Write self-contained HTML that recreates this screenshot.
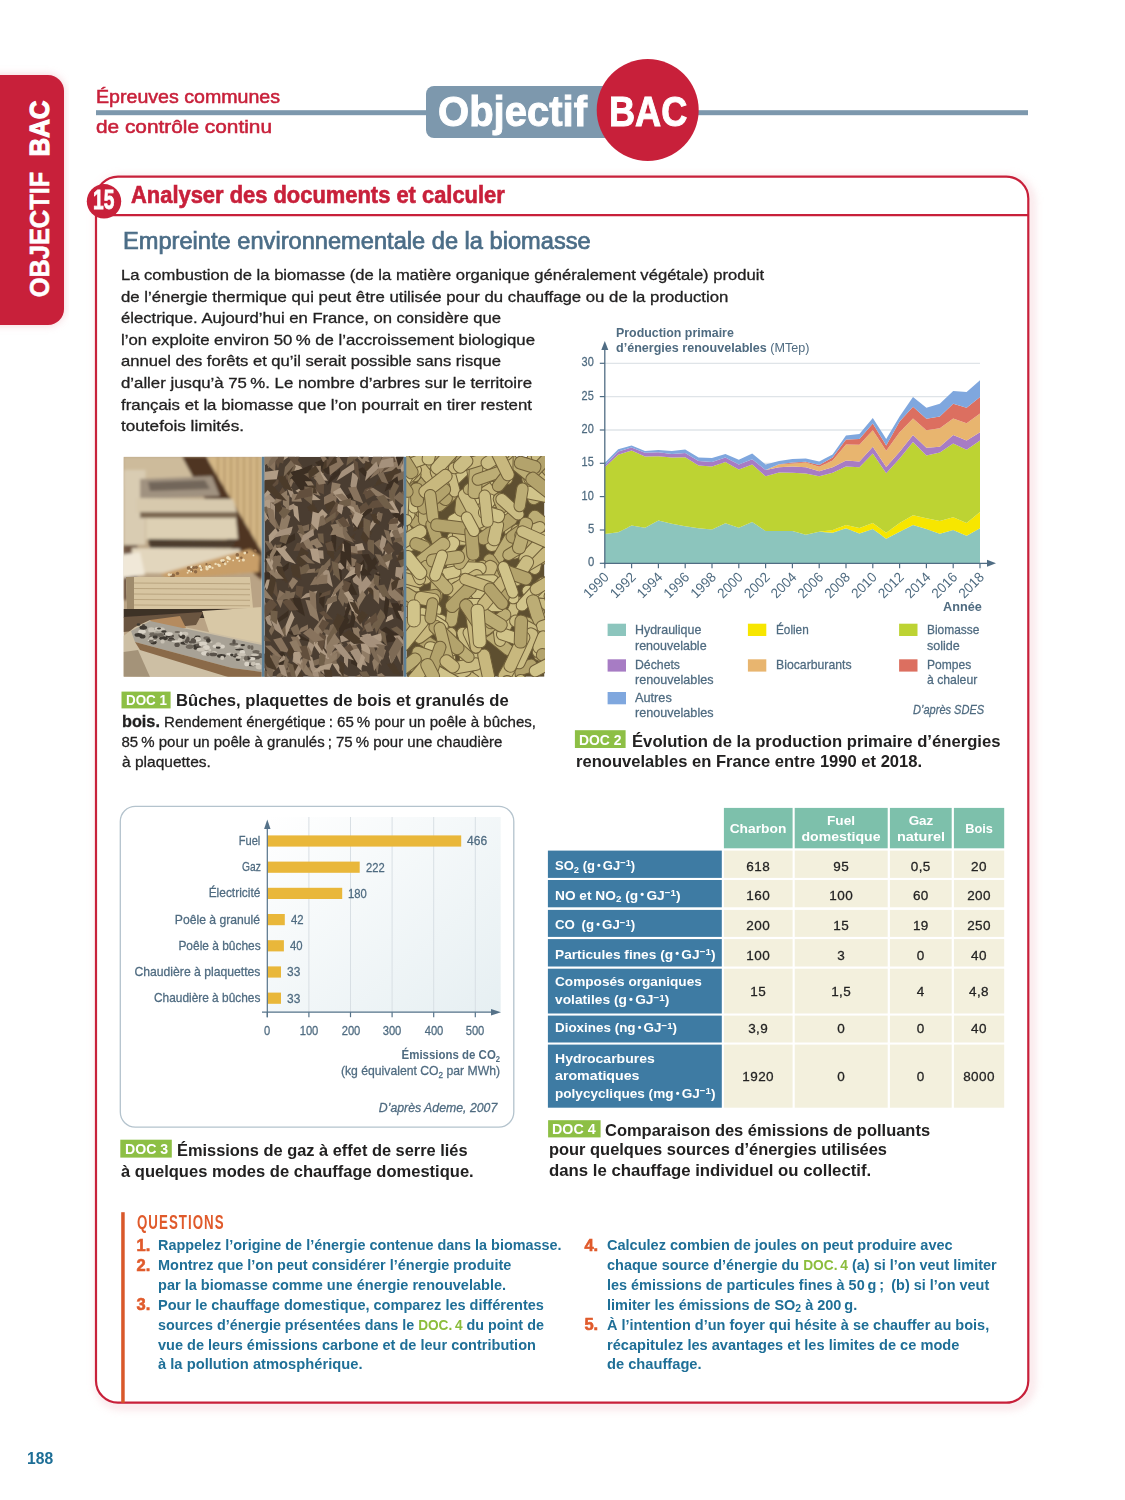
<!DOCTYPE html><html><head><meta charset="utf-8"><style>
*{margin:0;padding:0;box-sizing:border-box}
html,body{width:1125px;height:1500px;overflow:hidden;background:#fff}
body{position:relative;font-family:"Liberation Sans",sans-serif}
.t{position:absolute;white-space:nowrap;line-height:0}
.s{-webkit-text-stroke:0.28px currentColor}
.a{position:absolute}
sub,sup{line-height:0}

</style></head><body>
<svg class="a" style="left:0;top:0" width="1125" height="1500" viewBox="0 0 1125 1500">
<defs><filter id="glow" x="-5%" y="-5%" width="110%" height="110%"><feGaussianBlur stdDeviation="4"/></filter></defs>
<rect x="-20" y="75" width="84" height="250" rx="16" fill="#e7a0ab" opacity="0.5" filter="url(#glow)"/>
<rect x="-20" y="75" width="84" height="250" rx="16" fill="#c8203a"/>
<text transform="translate(49.3,297.3) rotate(-90)" font-family="Liberation Sans" font-weight="700" font-size="28.5" fill="#fff" stroke="#fff" stroke-width="0.6" textLength="125.5" lengthAdjust="spacingAndGlyphs">OBJECTIF</text>
<text transform="translate(49.3,156.5) rotate(-90)" font-family="Liberation Sans" font-weight="700" font-size="28.5" fill="#fff" stroke="#fff" stroke-width="1.2" textLength="56" lengthAdjust="spacingAndGlyphs">BAC</text>
<rect x="96" y="110.2" width="932" height="5" fill="#7d98ad"/>
<rect x="426" y="86" width="200" height="52" rx="8" fill="#7d98ad"/>
<circle cx="647.7" cy="110" r="51" fill="#c8203a"/>
<path d="M118,176.6 H1006.3 A22,22 0 0 1 1028.3,198.6 V1380.7 A22,22 0 0 1 1006.3,1402.7 H118 A22,22 0 0 1 96,1380.7 V198.6 A22,22 0 0 1 118,176.6 Z" fill="none" stroke="#f2c4cb" stroke-width="6" opacity="0.6" filter="url(#glow)" transform="translate(3,3)"/>
<path d="M118,176.6 H1006.3 A22,22 0 0 1 1028.3,198.6 V1380.7 A22,22 0 0 1 1006.3,1402.7 H118 A22,22 0 0 1 96,1380.7 V198.6 A22,22 0 0 1 118,176.6 Z" fill="#fff" stroke="#c8203a" stroke-width="2.2"/>
<line x1="110" y1="215.2" x2="1028" y2="215.2" stroke="#c8203a" stroke-width="2.2"/>
<circle cx="104" cy="201.3" r="17.2" fill="#c8203a"/>
<defs>
<clipPath id="cp1"><rect x="123.5" y="456.8" width="138.3" height="220.0"/></clipPath>
<clipPath id="cp2"><rect x="264.3" y="456.8" width="139.5" height="220.0"/></clipPath>
<clipPath id="cp3"><rect x="406.3" y="456.8" width="138.2" height="220.0"/></clipPath>
<filter id="bl1" x="-10%" y="-10%" width="120%" height="120%"><feGaussianBlur stdDeviation="1.6"/></filter>
<filter id="bl05" x="-10%" y="-10%" width="120%" height="120%"><feGaussianBlur stdDeviation="0.7"/></filter>
</defs>
<g clip-path="url(#cp1)">
<rect x="123.5" y="456.8" width="138.3" height="220.0" fill="#b9a385"/>
<g filter="url(#bl1)"><rect x="123.5" y="456.8" width="80" height="30" fill="#cdbb9b"/><rect x="123.5" y="470" width="22" height="75" fill="#d9ccb2"/><rect x="123.5" y="545" width="14" height="55" fill="#6e5443"/><polygon points="208,456.8 261.8,456.8 261.8,565 228,540" fill="#d4b786"/><line x1="218.0" y1="456.8" x2="218.0" y2="560" stroke="#a8895c" stroke-width="1.3"/><line x1="224.5" y1="456.8" x2="224.5" y2="560" stroke="#a8895c" stroke-width="1.3"/><line x1="231.0" y1="456.8" x2="231.0" y2="560" stroke="#a8895c" stroke-width="1.3"/><line x1="237.5" y1="456.8" x2="237.5" y2="560" stroke="#a8895c" stroke-width="1.3"/><line x1="244.0" y1="456.8" x2="244.0" y2="560" stroke="#a8895c" stroke-width="1.3"/><line x1="250.5" y1="456.8" x2="250.5" y2="560" stroke="#a8895c" stroke-width="1.3"/><line x1="257.0" y1="456.8" x2="257.0" y2="560" stroke="#a8895c" stroke-width="1.3"/><polygon points="182,456.8 206,456.8 262,552 262,580 238,560" fill="#4f3424"/><polygon points="140,479 212,476 220,496 140,499" fill="#a09280"/><polygon points="148,482 205,480 210,489 150,491" fill="#72665a"/><polygon points="136,498 233,499 237,512 136,513" fill="#d7c9ad"/><rect x="140" y="512" width="97" height="6" fill="#7a6650"/><polygon points="146,518 236,518 238,539 146,540" fill="#ddd0b4"/><polygon points="148,539 236,540 232,548 150,548" fill="#4e3d2e"/><polygon points="132,548 240,549 240,574 132,573" fill="#e2d6bd"/><polygon points="120,555 140,552 145,575 120,578" fill="#f0e8d8"/><polygon points="160,574 250,549 260,556 259,572 170,580" fill="#c89e68"/></g>
<circle cx="188.9" cy="570.6" r="1.2" fill="#f3e6c6"/>
<circle cx="209.7" cy="565.6" r="1.4" fill="#8e6a46"/>
<circle cx="190.8" cy="567.9" r="1.8" fill="#8e6a46"/>
<circle cx="215.6" cy="563.9" r="1.2" fill="#ecdcb8"/>
<circle cx="188.4" cy="568.0" r="1.7" fill="#8e6a46"/>
<circle cx="233.2" cy="560.4" r="0.9" fill="#f3e6c6"/>
<circle cx="171.8" cy="576.5" r="1.6" fill="#8e6a46"/>
<circle cx="209.6" cy="566.6" r="1.7" fill="#f3e6c6"/>
<circle cx="237.4" cy="557.7" r="1.5" fill="#f3e6c6"/>
<circle cx="207.1" cy="568.8" r="1.7" fill="#ecdcb8"/>
<circle cx="171.2" cy="574.7" r="1.1" fill="#f3e6c6"/>
<circle cx="206.4" cy="566.8" r="1.1" fill="#f3e6c6"/>
<circle cx="241.3" cy="557.7" r="1.3" fill="#8e6a46"/>
<circle cx="219.4" cy="565.5" r="1.5" fill="#ecdcb8"/>
<circle cx="243.4" cy="560.1" r="1.5" fill="#ecdcb8"/>
<circle cx="229.5" cy="558.9" r="1.3" fill="#f3e6c6"/>
<circle cx="218.1" cy="564.5" r="1.0" fill="#f3e6c6"/>
<circle cx="191.5" cy="567.0" r="1.3" fill="#f3e6c6"/>
<circle cx="255.1" cy="550.8" r="1.6" fill="#8e6a46"/>
<circle cx="246.9" cy="552.4" r="1.2" fill="#8e6a46"/>
<circle cx="244.8" cy="553.1" r="1.4" fill="#ecdcb8"/>
<circle cx="201.2" cy="567.8" r="1.4" fill="#8e6a46"/>
<circle cx="212.5" cy="567.9" r="1.1" fill="#ecdcb8"/>
<circle cx="177.5" cy="573.4" r="1.7" fill="#8e6a46"/>
<circle cx="193.7" cy="567.4" r="1.5" fill="#8e6a46"/>
<circle cx="195.6" cy="571.8" r="1.7" fill="#8e6a46"/>
<circle cx="201.2" cy="569.8" r="1.2" fill="#f3e6c6"/>
<circle cx="227.9" cy="557.7" r="1.8" fill="#f3e6c6"/>
<circle cx="191.9" cy="570.5" r="1.5" fill="#8e6a46"/>
<circle cx="206.5" cy="564.2" r="1.1" fill="#8e6a46"/>
<circle cx="169.0" cy="574.7" r="1.4" fill="#ecdcb8"/>
<circle cx="201.1" cy="567.8" r="0.9" fill="#f3e6c6"/>
<circle cx="223.2" cy="561.5" r="1.5" fill="#8e6a46"/>
<circle cx="221.6" cy="560.6" r="1.3" fill="#f3e6c6"/>
<circle cx="173.3" cy="575.4" r="1.8" fill="#8e6a46"/>
<circle cx="223.3" cy="560.3" r="1.4" fill="#ecdcb8"/>
<circle cx="200.0" cy="566.2" r="1.2" fill="#f3e6c6"/>
<circle cx="191.2" cy="571.7" r="0.9" fill="#ecdcb8"/>
<circle cx="253.5" cy="555.4" r="0.9" fill="#f3e6c6"/>
<circle cx="187.6" cy="572.7" r="1.0" fill="#ecdcb8"/>
<circle cx="227.7" cy="561.6" r="0.9" fill="#f3e6c6"/>
<circle cx="196.3" cy="567.3" r="1.6" fill="#8e6a46"/>
<circle cx="239.3" cy="560.9" r="0.9" fill="#f3e6c6"/>
<circle cx="225.2" cy="563.9" r="1.3" fill="#ecdcb8"/>
<circle cx="237.3" cy="554.9" r="1.8" fill="#8e6a46"/>
<g filter="url(#bl05)"><polygon points="126,577 250,577 253,608 127,610" fill="#d7c5a1"/><polygon points="126,577 134,577 134,610 127,610" fill="#9f8b6c"/><line x1="134" y1="583.0" x2="250" y2="583.8" stroke="#b5a07c" stroke-width="0.9"/><line x1="134" y1="588.5" x2="250" y2="589.3" stroke="#b5a07c" stroke-width="0.9"/><line x1="134" y1="594.0" x2="250" y2="594.8" stroke="#b5a07c" stroke-width="0.9"/><line x1="134" y1="599.5" x2="250" y2="600.3" stroke="#b5a07c" stroke-width="0.9"/><line x1="134" y1="605.0" x2="250" y2="605.8" stroke="#b5a07c" stroke-width="0.9"/><rect x="123.5" y="609" width="110" height="9" fill="#3e3128"/><polygon points="202,611 261.8,607 261.8,644 212,641" fill="#d8c8a6"/><polygon points="123.5,617 203,612 196,625 123.5,632" fill="#6a5440"/><polygon points="123.5,636 135,627 150,620 261.8,643 261.8,677 123.5,676.8" fill="#cdbfa4"/><polygon points="150,620 180,616 186,628 158,632" fill="#b58b5e"/><polygon points="131,631 150,621 261.8,645 261.8,672 232,668 135,642" fill="#a8a296"/><polygon points="135,642 232,668 261.8,672 261.8,677 228,677 140,650" fill="#8a6a4a"/><polygon points="123.5,652 138,650 150,677 123.5,676.8" fill="#a49379"/></g>
<ellipse cx="237.9" cy="659.7" rx="2.1" ry="1.4" fill="#3e3932"/>
<ellipse cx="237.8" cy="649.1" rx="1.9" ry="1.4" fill="#d8d2c6"/>
<ellipse cx="195.5" cy="646.1" rx="2.4" ry="1.9" fill="#3e3932"/>
<ellipse cx="252.0" cy="647.7" rx="1.5" ry="2.4" fill="#6d665c"/>
<ellipse cx="260.2" cy="655.7" rx="4.4" ry="2.4" fill="#59524a"/>
<ellipse cx="142.0" cy="631.7" rx="3.8" ry="2.1" fill="#d8d2c6"/>
<ellipse cx="205.3" cy="653.2" rx="4.1" ry="2.3" fill="#d8d2c6"/>
<ellipse cx="152.9" cy="630.5" rx="1.6" ry="2.2" fill="#6d665c"/>
<ellipse cx="252.4" cy="664.4" rx="4.2" ry="1.9" fill="#3e3932"/>
<ellipse cx="197.6" cy="636.9" rx="3.0" ry="1.4" fill="#3e3932"/>
<ellipse cx="203.0" cy="643.5" rx="4.3" ry="1.9" fill="#d8d2c6"/>
<ellipse cx="153.5" cy="642.3" rx="3.1" ry="2.2" fill="#3e3932"/>
<ellipse cx="181.6" cy="635.3" rx="3.1" ry="2.2" fill="#59524a"/>
<ellipse cx="167.6" cy="633.9" rx="4.2" ry="1.2" fill="#3e3932"/>
<ellipse cx="198.4" cy="645.5" rx="2.7" ry="2.1" fill="#59524a"/>
<ellipse cx="171.3" cy="639.0" rx="2.8" ry="1.7" fill="#3e3932"/>
<ellipse cx="244.1" cy="659.8" rx="1.6" ry="1.1" fill="#c9c2b5"/>
<ellipse cx="258.7" cy="664.9" rx="1.8" ry="1.8" fill="#d8d2c6"/>
<ellipse cx="157.4" cy="628.6" rx="2.7" ry="1.6" fill="#d8d2c6"/>
<ellipse cx="182.7" cy="635.4" rx="2.5" ry="1.2" fill="#6d665c"/>
<ellipse cx="138.4" cy="634.9" rx="3.9" ry="1.9" fill="#3e3932"/>
<ellipse cx="184.2" cy="643.1" rx="3.8" ry="1.6" fill="#3e3932"/>
<ellipse cx="215.1" cy="646.3" rx="2.6" ry="1.7" fill="#d8d2c6"/>
<ellipse cx="190.1" cy="646.0" rx="2.9" ry="1.4" fill="#6d665c"/>
<ellipse cx="171.4" cy="640.1" rx="3.9" ry="1.3" fill="#59524a"/>
<ellipse cx="246.9" cy="664.0" rx="2.6" ry="2.3" fill="#d8d2c6"/>
<ellipse cx="153.0" cy="637.7" rx="4.3" ry="2.1" fill="#6d665c"/>
<ellipse cx="236.1" cy="655.7" rx="3.7" ry="1.8" fill="#3e3932"/>
<ellipse cx="238.5" cy="657.3" rx="2.9" ry="1.4" fill="#c9c2b5"/>
<ellipse cx="143.5" cy="626.4" rx="1.8" ry="2.3" fill="#59524a"/>
<ellipse cx="239.4" cy="649.4" rx="4.1" ry="1.0" fill="#3e3932"/>
<ellipse cx="221.4" cy="655.9" rx="4.4" ry="1.9" fill="#3e3932"/>
<ellipse cx="142.5" cy="636.5" rx="3.0" ry="2.1" fill="#3e3932"/>
<ellipse cx="206.6" cy="638.1" rx="3.2" ry="1.8" fill="#6d665c"/>
<ellipse cx="160.3" cy="629.2" rx="4.5" ry="2.0" fill="#c9c2b5"/>
<ellipse cx="214.3" cy="652.6" rx="2.7" ry="1.6" fill="#c9c2b5"/>
<ellipse cx="254.2" cy="657.2" rx="4.4" ry="1.6" fill="#59524a"/>
<ellipse cx="258.5" cy="654.8" rx="3.7" ry="1.2" fill="#6d665c"/>
<ellipse cx="231.6" cy="654.8" rx="3.1" ry="1.7" fill="#c9c2b5"/>
<ellipse cx="249.1" cy="647.1" rx="1.8" ry="2.1" fill="#6d665c"/>
<ellipse cx="255.7" cy="658.2" rx="4.1" ry="1.2" fill="#59524a"/>
<ellipse cx="156.1" cy="635.6" rx="4.3" ry="2.3" fill="#6d665c"/>
<ellipse cx="256.0" cy="651.7" rx="3.6" ry="1.6" fill="#6d665c"/>
<ellipse cx="210.4" cy="642.1" rx="2.2" ry="1.0" fill="#c9c2b5"/>
<ellipse cx="237.5" cy="646.0" rx="3.2" ry="1.4" fill="#c9c2b5"/>
<ellipse cx="233.8" cy="644.1" rx="4.5" ry="1.7" fill="#6d665c"/>
<ellipse cx="163.5" cy="638.2" rx="4.2" ry="2.0" fill="#3e3932"/>
<ellipse cx="197.6" cy="648.2" rx="4.1" ry="1.6" fill="#3e3932"/>
<ellipse cx="195.9" cy="638.6" rx="2.2" ry="2.1" fill="#3e3932"/>
<ellipse cx="256.7" cy="664.4" rx="2.2" ry="1.3" fill="#d8d2c6"/>
<ellipse cx="155.0" cy="637.0" rx="3.5" ry="1.1" fill="#d8d2c6"/>
<ellipse cx="159.0" cy="628.5" rx="2.0" ry="1.1" fill="#3e3932"/>
<ellipse cx="152.6" cy="630.8" rx="4.2" ry="1.1" fill="#c9c2b5"/>
<ellipse cx="209.8" cy="650.0" rx="1.5" ry="1.5" fill="#c9c2b5"/>
<ellipse cx="185.0" cy="633.8" rx="3.4" ry="2.1" fill="#c9c2b5"/>
<ellipse cx="186.4" cy="642.5" rx="1.9" ry="1.4" fill="#c9c2b5"/>
<ellipse cx="151.9" cy="640.6" rx="4.2" ry="1.1" fill="#d8d2c6"/>
<ellipse cx="222.0" cy="646.5" rx="2.9" ry="2.0" fill="#d8d2c6"/>
<ellipse cx="151.3" cy="641.3" rx="2.5" ry="1.8" fill="#6d665c"/>
<ellipse cx="152.0" cy="634.3" rx="2.6" ry="2.1" fill="#6d665c"/>
<ellipse cx="229.9" cy="653.9" rx="3.7" ry="1.2" fill="#d8d2c6"/>
<ellipse cx="248.2" cy="658.1" rx="1.9" ry="2.4" fill="#59524a"/>
<ellipse cx="252.0" cy="658.7" rx="3.4" ry="1.6" fill="#d8d2c6"/>
<ellipse cx="218.2" cy="647.5" rx="2.4" ry="1.3" fill="#3e3932"/>
<ellipse cx="151.3" cy="629.2" rx="3.2" ry="1.9" fill="#c9c2b5"/>
<ellipse cx="182.5" cy="636.7" rx="2.7" ry="2.3" fill="#3e3932"/>
<ellipse cx="197.3" cy="639.6" rx="3.6" ry="1.8" fill="#d8d2c6"/>
<ellipse cx="255.0" cy="654.9" rx="3.9" ry="1.1" fill="#c9c2b5"/>
<ellipse cx="242.8" cy="645.1" rx="2.3" ry="1.1" fill="#3e3932"/>
<ellipse cx="207.9" cy="654.2" rx="1.8" ry="2.0" fill="#6d665c"/>
<ellipse cx="189.6" cy="646.8" rx="3.9" ry="2.1" fill="#6d665c"/>
<ellipse cx="213.3" cy="654.4" rx="3.9" ry="1.8" fill="#59524a"/>
<ellipse cx="208.4" cy="640.5" rx="2.3" ry="2.2" fill="#3e3932"/>
<ellipse cx="242.3" cy="652.2" rx="2.7" ry="2.2" fill="#d8d2c6"/>
<ellipse cx="206.4" cy="647.5" rx="3.4" ry="2.5" fill="#d8d2c6"/>
<ellipse cx="248.9" cy="658.5" rx="1.6" ry="1.3" fill="#3e3932"/>
<ellipse cx="151.3" cy="638.4" rx="2.2" ry="1.3" fill="#c9c2b5"/>
<ellipse cx="162.6" cy="641.4" rx="2.1" ry="2.2" fill="#c9c2b5"/>
<ellipse cx="151.8" cy="631.0" rx="3.5" ry="1.2" fill="#c9c2b5"/>
<ellipse cx="236.1" cy="654.7" rx="1.7" ry="1.5" fill="#59524a"/>
<ellipse cx="200.6" cy="644.6" rx="1.6" ry="1.5" fill="#d8d2c6"/>
<ellipse cx="245.8" cy="658.4" rx="1.9" ry="2.3" fill="#6d665c"/>
<ellipse cx="234.0" cy="641.8" rx="1.7" ry="2.5" fill="#59524a"/>
<ellipse cx="253.3" cy="663.8" rx="2.8" ry="2.1" fill="#c9c2b5"/>
<ellipse cx="177.1" cy="644.7" rx="2.7" ry="2.3" fill="#59524a"/>
<ellipse cx="186.5" cy="641.2" rx="1.7" ry="2.3" fill="#59524a"/>
<ellipse cx="218.4" cy="644.4" rx="2.9" ry="2.1" fill="#c9c2b5"/>
<ellipse cx="192.3" cy="642.1" rx="1.6" ry="1.4" fill="#d8d2c6"/>
<ellipse cx="193.4" cy="640.6" rx="2.7" ry="2.5" fill="#59524a"/>
<ellipse cx="170.0" cy="636.0" rx="4.1" ry="1.8" fill="#59524a"/>
<ellipse cx="163.9" cy="631.5" rx="2.7" ry="1.3" fill="#3e3932"/>
<ellipse cx="155.2" cy="636.9" rx="2.8" ry="1.3" fill="#3e3932"/>
<ellipse cx="187.9" cy="638.7" rx="1.6" ry="2.1" fill="#59524a"/>
<ellipse cx="187.9" cy="640.1" rx="1.6" ry="2.4" fill="#59524a"/>
<ellipse cx="167.9" cy="635.9" rx="2.1" ry="1.5" fill="#3e3932"/>
<ellipse cx="180.9" cy="633.8" rx="1.7" ry="2.1" fill="#d8d2c6"/>
<ellipse cx="259.5" cy="667.1" rx="3.9" ry="2.4" fill="#c9c2b5"/>
<ellipse cx="168.9" cy="634.0" rx="3.9" ry="1.9" fill="#d8d2c6"/>
<ellipse cx="177.3" cy="632.0" rx="2.8" ry="1.1" fill="#6d665c"/>
<ellipse cx="138.5" cy="624.5" rx="1.8" ry="1.3" fill="#3e3932"/>
<ellipse cx="197.7" cy="638.2" rx="3.0" ry="1.5" fill="#c9c2b5"/>
<ellipse cx="180.1" cy="640.0" rx="2.6" ry="2.0" fill="#c9c2b5"/>
<ellipse cx="175.7" cy="641.3" rx="4.3" ry="1.1" fill="#d8d2c6"/>
<ellipse cx="160.8" cy="634.9" rx="3.0" ry="1.8" fill="#6d665c"/>
<ellipse cx="222.2" cy="657.9" rx="2.0" ry="2.1" fill="#c9c2b5"/>
<ellipse cx="241.5" cy="654.4" rx="4.3" ry="1.5" fill="#c9c2b5"/>
<ellipse cx="192.3" cy="641.9" rx="3.6" ry="1.5" fill="#59524a"/>
<ellipse cx="200.8" cy="649.5" rx="4.2" ry="2.0" fill="#c9c2b5"/>
<ellipse cx="143.3" cy="627.6" rx="3.8" ry="2.2" fill="#3e3932"/>
<ellipse cx="231.9" cy="655.0" rx="1.8" ry="1.4" fill="#3e3932"/>
</g>
<g clip-path="url(#cp2)">
<rect x="264.3" y="456.8" width="139.5" height="220.0" fill="#4a3d31"/>
<g filter="url(#bl05)">
<polygon points="306.8,497.3 304.8,488.4 307.6,475.6 311.0,480.2" fill="#715e4a"/>
<polygon points="347.8,667.8 344.0,662.9 344.0,654.5 348.3,656.4" fill="#a5917b"/>
<polygon points="280.6,559.1 272.1,553.2 264.2,540.5 270.5,541.8" fill="#7d6a55"/>
<polygon points="335.0,551.9 341.8,542.8 355.5,533.4 353.6,539.8" fill="#4b3b2c"/>
<polygon points="317.6,585.3 317.1,576.1 324.7,566.2 328.6,572.6" fill="#907b65"/>
<polygon points="353.6,602.8 345.6,603.4 338.1,596.3 344.0,592.5" fill="#7d6a55"/>
<polygon points="352.7,575.7 346.8,568.4 348.9,556.4 356.6,559.7" fill="#88735d"/>
<polygon points="319.0,512.4 311.8,514.1 306.6,507.3 312.7,502.4" fill="#4b3b2c"/>
<polygon points="327.2,657.6 334.3,650.7 347.9,647.3 345.6,653.6" fill="#907b65"/>
<polygon points="337.4,497.7 330.5,492.4 332.0,482.2 340.6,483.9" fill="#907b65"/>
<polygon points="367.7,595.0 369.2,584.2 378.2,571.5 380.3,578.4" fill="#88735d"/>
<polygon points="346.8,569.3 340.4,559.6 342.9,544.3 351.3,548.8" fill="#907b65"/>
<polygon points="260.7,620.8 262.6,610.4 274.3,603.8 277.2,612.8" fill="#4b3b2c"/>
<polygon points="369.2,663.4 361.6,659.3 361.5,649.0 370.2,649.2" fill="#907b65"/>
<polygon points="335.0,509.3 328.6,504.7 329.3,495.1 336.9,496.3" fill="#88735d"/>
<polygon points="264.4,562.2 266.0,552.6 276.8,546.5 279.5,554.8" fill="#3b2e23"/>
<polygon points="293.5,550.9 297.0,543.0 307.3,541.7 307.8,550.2" fill="#624f3d"/>
<polygon points="263.8,494.1 268.4,486.3 278.9,478.3 278.2,483.9" fill="#624f3d"/>
<polygon points="297.2,461.4 294.6,453.9 298.5,443.8 303.2,448.2" fill="#624f3d"/>
<polygon points="371.9,575.2 362.1,575.7 352.3,567.2 359.2,563.1" fill="#3b2e23"/>
<polygon points="323.2,546.4 316.7,548.3 311.9,542.4 317.1,537.7" fill="#907b65"/>
<polygon points="411.5,556.5 404.9,557.6 400.5,551.3 406.1,547.3" fill="#624f3d"/>
<polygon points="346.4,678.0 338.8,673.4 331.8,662.8 337.5,663.5" fill="#b09c85"/>
<polygon points="288.0,514.7 280.5,513.8 274.1,506.1 279.9,503.9" fill="#88735d"/>
<polygon points="415.5,564.2 407.7,562.3 399.4,554.6 404.7,553.5" fill="#715e4a"/>
<polygon points="377.4,570.3 368.2,566.4 361.3,554.6 368.8,554.0" fill="#3b2e23"/>
<polygon points="319.6,622.2 310.1,615.3 305.3,599.8 314.2,601.1" fill="#907b65"/>
<polygon points="358.3,518.4 359.9,511.3 367.5,504.6 368.9,509.8" fill="#3b2e23"/>
<polygon points="333.3,575.6 335.3,566.0 345.8,558.0 348.0,565.5" fill="#a5917b"/>
<polygon points="379.3,651.7 376.4,642.2 379.0,628.3 383.4,633.2" fill="#715e4a"/>
<polygon points="376.8,688.3 367.2,684.0 359.1,671.7 366.7,671.3" fill="#715e4a"/>
<polygon points="330.7,680.5 321.5,671.8 319.4,654.9 329.0,657.5" fill="#a5917b"/>
<polygon points="267.1,562.9 271.5,556.6 281.4,555.3 280.6,562.0" fill="#7d6a55"/>
<polygon points="326.3,613.3 327.5,603.2 334.6,590.3 336.4,596.3" fill="#b09c85"/>
<polygon points="370.2,631.4 372.7,623.7 381.3,616.4 382.3,622.1" fill="#715e4a"/>
<polygon points="265.8,678.9 267.6,669.0 277.3,659.0 279.5,666.0" fill="#907b65"/>
<polygon points="362.5,494.3 365.0,489.0 372.1,486.5 372.4,491.4" fill="#624f3d"/>
<polygon points="357.6,595.0 348.3,594.4 342.3,584.4 350.4,580.8" fill="#3b2e23"/>
<polygon points="278.0,468.8 273.9,457.5 277.9,441.2 284.2,447.2" fill="#624f3d"/>
<polygon points="331.2,662.5 322.9,656.2 316.0,642.8 322.6,644.3" fill="#4b3b2c"/>
<polygon points="328.4,632.9 330.1,625.3 338.8,620.7 340.7,627.4" fill="#7d6a55"/>
<polygon points="387.7,538.2 391.3,530.4 402.0,526.6 402.4,533.9" fill="#b09c85"/>
<polygon points="382.8,660.0 379.9,654.9 381.9,647.6 386.1,650.2" fill="#88735d"/>
<polygon points="384.6,599.4 375.3,595.6 365.4,585.0 371.8,584.8" fill="#907b65"/>
<polygon points="336.3,534.2 337.8,525.4 347.3,518.2 349.6,525.2" fill="#907b65"/>
<polygon points="396.9,468.6 391.0,467.8 385.2,462.0 389.5,460.4" fill="#88735d"/>
<polygon points="339.7,639.3 338.7,628.0 345.3,613.4 349.3,620.1" fill="#3b2e23"/>
<polygon points="344.8,503.1 345.8,495.8 353.8,491.0 356.1,497.3" fill="#3b2e23"/>
<polygon points="407.2,623.3 396.7,618.0 391.0,603.2 400.6,603.0" fill="#3b2e23"/>
<polygon points="395.1,507.1 389.4,501.2 388.9,490.1 395.2,492.1" fill="#715e4a"/>
<polygon points="266.5,511.5 265.7,504.9 272.3,501.6 276.0,507.6" fill="#624f3d"/>
<polygon points="406.2,605.0 398.9,603.5 392.5,595.6 398.0,594.0" fill="#88735d"/>
<polygon points="284.1,674.0 289.0,667.6 299.5,666.2 298.5,672.9" fill="#a5917b"/>
<polygon points="290.0,558.1 282.0,555.0 275.8,545.0 282.2,544.3" fill="#715e4a"/>
<polygon points="269.3,543.0 268.7,535.4 275.5,528.1 279.0,533.7" fill="#b09c85"/>
<polygon points="300.0,598.9 306.1,593.5 317.4,590.7 315.2,595.7" fill="#a5917b"/>
<polygon points="399.9,481.6 401.6,475.4 408.4,469.5 409.4,474.1" fill="#4b3b2c"/>
<polygon points="361.1,646.2 367.8,637.2 382.6,632.8 381.3,641.2" fill="#b09c85"/>
<polygon points="290.2,668.7 280.7,668.5 272.0,659.4 279.2,655.8" fill="#7d6a55"/>
<polygon points="390.9,498.9 379.9,498.1 366.2,490.3 372.9,487.8" fill="#907b65"/>
<polygon points="369.3,479.1 375.4,470.5 388.3,462.2 386.8,468.4" fill="#88735d"/>
<polygon points="258.5,688.9 255.1,680.5 261.4,671.4 268.0,677.1" fill="#7d6a55"/>
<polygon points="343.4,509.4 337.7,509.9 332.2,505.0 336.3,502.3" fill="#a5917b"/>
<polygon points="400.0,606.1 395.7,598.8 396.1,586.9 401.1,590.2" fill="#624f3d"/>
<polygon points="312.6,642.0 301.3,640.1 286.5,632.3 293.0,631.0" fill="#3b2e23"/>
<polygon points="349.3,500.7 339.9,501.2 332.8,492.0 340.4,487.5" fill="#b09c85"/>
<polygon points="363.3,588.9 353.4,582.3 349.5,566.8 359.2,567.7" fill="#a5917b"/>
<polygon points="402.1,542.4 400.7,531.4 408.4,518.2 413.3,525.2" fill="#b09c85"/>
<polygon points="403.4,689.6 404.0,679.3 410.0,665.4 411.9,671.2" fill="#4b3b2c"/>
<polygon points="323.5,475.5 319.8,466.7 322.3,453.5 327.6,458.0" fill="#4b3b2c"/>
<polygon points="351.7,615.7 346.7,613.7 344.9,607.2 349.7,606.7" fill="#7d6a55"/>
<polygon points="306.7,684.2 296.7,677.8 289.2,662.9 297.4,663.7" fill="#4b3b2c"/>
<polygon points="296.0,500.8 290.3,496.7 286.8,487.6 291.8,488.3" fill="#a5917b"/>
<polygon points="300.9,634.1 293.8,635.2 290.6,628.2 297.2,624.0" fill="#7d6a55"/>
<polygon points="308.6,525.4 315.1,519.1 327.3,515.0 325.2,520.4" fill="#624f3d"/>
<polygon points="362.9,628.2 355.1,620.4 350.9,605.4 357.9,607.8" fill="#88735d"/>
<polygon points="273.8,625.7 278.3,617.9 288.8,610.2 288.2,615.9" fill="#3b2e23"/>
<polygon points="352.4,632.9 350.0,622.9 352.6,608.2 356.5,613.4" fill="#3b2e23"/>
<polygon points="340.9,642.6 339.9,636.3 346.2,633.6 350.0,639.7" fill="#a5917b"/>
<polygon points="275.2,471.7 267.1,465.2 266.6,451.9 275.7,453.5" fill="#88735d"/>
<polygon points="343.1,606.8 338.0,598.4 340.6,585.6 347.5,589.7" fill="#7d6a55"/>
<polygon points="338.9,475.2 326.8,474.1 315.1,462.6 323.9,458.8" fill="#3b2e23"/>
<polygon points="273.1,627.4 267.6,624.0 264.3,615.8 269.1,616.1" fill="#a5917b"/>
<polygon points="301.7,606.0 292.6,606.9 284.8,598.5 291.9,593.8" fill="#4b3b2c"/>
<polygon points="382.1,600.7 373.8,597.2 365.1,587.5 370.9,587.4" fill="#4b3b2c"/>
<polygon points="357.2,621.7 353.8,613.4 355.1,600.6 359.4,604.7" fill="#88735d"/>
<polygon points="305.0,616.2 296.3,610.7 292.3,597.5 300.4,598.1" fill="#3b2e23"/>
<polygon points="300.6,570.8 295.8,560.6 301.0,546.9 308.8,552.6" fill="#4b3b2c"/>
<polygon points="401.9,670.8 401.9,665.0 408.0,662.3 410.6,667.8" fill="#88735d"/>
<polygon points="419.3,547.5 407.3,547.1 395.3,536.0 404.0,531.8" fill="#907b65"/>
<polygon points="270.9,582.0 276.5,572.2 289.2,561.9 288.3,568.6" fill="#3b2e23"/>
<polygon points="294.5,482.7 297.2,475.3 306.7,471.3 307.6,478.1" fill="#b09c85"/>
<polygon points="267.4,461.0 260.3,456.2 257.2,445.0 264.0,445.7" fill="#624f3d"/>
<polygon points="324.0,543.8 318.7,540.9 317.7,533.4 323.3,533.5" fill="#715e4a"/>
<polygon points="373.7,486.8 379.8,476.7 394.7,470.3 394.2,479.1" fill="#4b3b2c"/>
<polygon points="304.5,471.1 295.8,472.4 288.7,464.3 295.6,459.4" fill="#b09c85"/>
<polygon points="369.4,655.2 369.2,648.6 374.2,640.9 376.5,645.1" fill="#624f3d"/>
<polygon points="299.5,522.1 294.1,515.7 292.4,504.2 297.8,506.5" fill="#b09c85"/>
<polygon points="382.1,643.6 386.9,634.5 399.8,631.5 399.8,640.5" fill="#3b2e23"/>
<polygon points="286.0,483.2 285.2,471.8 291.9,457.0 295.7,463.7" fill="#624f3d"/>
<polygon points="359.9,521.0 353.0,522.8 349.9,516.1 356.6,511.1" fill="#88735d"/>
<polygon points="318.7,523.4 316.1,516.1 322.1,509.1 327.7,514.4" fill="#b09c85"/>
<polygon points="364.6,527.9 356.2,525.2 349.0,515.2 355.7,514.0" fill="#624f3d"/>
<polygon points="271.9,579.2 266.4,569.9 267.4,554.9 274.1,559.1" fill="#715e4a"/>
<polygon points="413.5,558.7 407.6,558.6 402.3,553.0 406.8,550.6" fill="#715e4a"/>
<polygon points="347.9,531.4 339.5,530.0 335.3,520.4 343.1,518.0" fill="#7d6a55"/>
<polygon points="374.0,555.1 367.8,549.7 367.1,538.9 374.0,540.5" fill="#715e4a"/>
<polygon points="367.3,575.5 367.5,566.5 374.9,556.6 377.8,562.6" fill="#3b2e23"/>
<polygon points="357.4,655.9 351.4,653.4 348.3,645.4 353.8,644.9" fill="#b09c85"/>
<polygon points="348.7,554.4 352.2,546.9 362.1,545.9 362.3,554.1" fill="#624f3d"/>
<polygon points="261.4,627.8 259.5,616.7 265.3,601.9 269.8,608.2" fill="#7d6a55"/>
<polygon points="271.3,679.1 266.1,668.8 267.5,652.6 273.9,657.4" fill="#88735d"/>
<polygon points="293.7,482.6 292.0,476.2 297.6,470.4 302.0,475.3" fill="#88735d"/>
<polygon points="271.2,635.4 268.9,631.0 271.7,625.3 275.4,628.0" fill="#7d6a55"/>
<polygon points="353.8,527.5 352.2,521.7 356.5,515.4 360.2,519.3" fill="#907b65"/>
<polygon points="281.6,532.1 273.0,524.9 265.7,510.3 272.3,512.4" fill="#7d6a55"/>
<polygon points="257.7,529.7 254.7,520.8 261.8,511.8 268.3,518.0" fill="#a5917b"/>
<polygon points="326.9,512.1 324.5,504.3 331.8,498.3 337.6,504.8" fill="#4b3b2c"/>
<polygon points="278.6,503.2 267.3,501.9 255.5,491.3 263.4,488.3" fill="#a5917b"/>
<polygon points="361.8,671.1 357.2,666.9 355.4,658.5 359.9,659.7" fill="#b09c85"/>
<polygon points="309.7,546.3 310.4,541.0 316.3,538.5 318.1,543.6" fill="#907b65"/>
<polygon points="294.8,681.0 286.7,679.4 283.5,670.0 291.4,667.9" fill="#a5917b"/>
<polygon points="297.3,662.1 294.1,656.3 298.7,650.1 304.4,654.1" fill="#a5917b"/>
<polygon points="327.1,664.0 328.5,657.8 335.6,656.8 337.0,663.4" fill="#7d6a55"/>
<polygon points="296.7,678.8 291.0,678.8 285.1,673.8 289.1,671.7" fill="#b09c85"/>
<polygon points="333.2,619.6 326.4,618.9 319.2,612.5 324.0,610.7" fill="#624f3d"/>
<polygon points="320.7,500.0 308.8,500.2 295.5,490.8 303.3,486.5" fill="#b09c85"/>
<polygon points="392.5,683.0 384.8,681.7 376.5,674.7 381.6,673.1" fill="#907b65"/>
<polygon points="315.9,676.2 308.2,676.3 306.1,668.5 313.9,664.9" fill="#715e4a"/>
<polygon points="368.3,533.5 370.6,523.6 379.1,511.5 380.2,517.7" fill="#a5917b"/>
<polygon points="309.5,667.1 311.8,660.9 319.7,658.2 320.5,664.1" fill="#7d6a55"/>
<polygon points="356.9,519.0 350.6,512.0 349.1,499.2 355.6,501.6" fill="#88735d"/>
<polygon points="262.6,667.5 264.6,660.0 273.6,657.6 275.2,665.2" fill="#715e4a"/>
<polygon points="305.9,540.0 309.8,529.6 320.4,517.0 320.4,523.6" fill="#715e4a"/>
<polygon points="389.7,528.6 392.5,518.8 403.9,510.5 405.5,518.3" fill="#907b65"/>
<polygon points="254.6,509.7 258.7,501.2 270.2,499.4 270.5,508.3" fill="#b09c85"/>
<polygon points="377.5,674.2 374.4,664.4 376.1,649.6 380.3,654.5" fill="#7d6a55"/>
<polygon points="376.1,633.6 373.6,622.7 380.5,609.1 386.2,615.8" fill="#715e4a"/>
<polygon points="387.7,569.8 383.4,560.1 386.6,545.7 392.8,550.7" fill="#b09c85"/>
<polygon points="371.1,514.2 369.1,509.5 371.5,503.0 374.9,505.7" fill="#715e4a"/>
<polygon points="281.5,555.6 280.3,550.2 284.1,543.9 287.0,547.3" fill="#a5917b"/>
<polygon points="280.6,575.5 271.9,570.7 265.5,558.4 272.8,558.5" fill="#b09c85"/>
<polygon points="323.8,662.4 323.9,655.2 331.2,650.1 334.3,656.2" fill="#907b65"/>
<polygon points="380.1,525.6 373.9,522.6 370.5,514.0 376.2,513.7" fill="#4b3b2c"/>
<polygon points="283.3,513.0 286.1,507.1 294.2,503.5 294.4,508.6" fill="#a5917b"/>
<polygon points="316.6,553.9 306.4,547.7 298.2,532.9 306.4,533.7" fill="#907b65"/>
<polygon points="352.8,683.9 353.2,677.6 360.0,674.3 362.4,680.1" fill="#88735d"/>
<polygon points="401.3,466.6 394.9,464.2 389.9,456.3 395.0,455.7" fill="#a5917b"/>
<polygon points="405.4,548.1 396.4,541.8 389.9,527.7 397.5,528.8" fill="#7d6a55"/>
<polygon points="278.5,599.0 272.7,592.0 270.5,579.3 276.2,581.9" fill="#624f3d"/>
<polygon points="261.4,684.6 262.3,678.0 269.4,677.2 271.3,684.4" fill="#7d6a55"/>
<polygon points="388.9,550.2 380.7,550.7 373.6,543.2 379.8,539.3" fill="#7d6a55"/>
<polygon points="379.6,583.2 375.7,579.7 375.7,572.8 380.1,573.9" fill="#3b2e23"/>
<polygon points="288.2,583.8 280.3,578.5 275.3,566.2 282.2,567.0" fill="#4b3b2c"/>
<polygon points="354.7,551.1 355.2,544.4 362.3,543.0 364.8,550.1" fill="#b09c85"/>
<polygon points="331.0,660.9 320.7,655.2 311.0,641.3 318.7,641.8" fill="#b09c85"/>
<polygon points="280.5,462.4 285.1,452.2 297.9,442.7 298.1,450.4" fill="#b09c85"/>
<polygon points="356.3,541.2 346.5,539.4 334.5,531.3 340.7,529.8" fill="#624f3d"/>
<polygon points="356.9,666.6 351.0,663.6 351.5,656.1 358.4,656.3" fill="#3b2e23"/>
<polygon points="290.6,535.0 284.6,535.2 278.7,529.7 283.1,527.2" fill="#b09c85"/>
<polygon points="343.5,645.3 332.8,641.1 321.0,629.5 328.1,629.4" fill="#7d6a55"/>
<polygon points="406.6,568.1 399.9,565.4 401.5,558.2 409.8,558.1" fill="#624f3d"/>
<polygon points="362.2,656.6 353.0,653.5 346.5,642.3 354.2,641.0" fill="#88735d"/>
<polygon points="289.1,510.2 283.0,504.8 282.6,494.2 289.3,495.8" fill="#907b65"/>
<polygon points="271.7,682.4 277.8,674.0 290.8,666.7 289.5,673.2" fill="#7d6a55"/>
<polygon points="352.7,532.0 355.2,524.4 364.5,519.5 365.7,526.1" fill="#4b3b2c"/>
<polygon points="358.6,529.6 353.1,525.3 352.6,516.3 358.6,517.3" fill="#3b2e23"/>
<polygon points="331.2,465.6 322.7,461.4 317.1,449.8 324.4,449.6" fill="#88735d"/>
<polygon points="387.3,646.3 382.4,640.8 380.4,630.5 385.2,632.4" fill="#715e4a"/>
<polygon points="269.9,562.5 269.9,554.4 275.2,544.0 277.4,548.9" fill="#907b65"/>
<polygon points="390.5,533.3 393.6,524.2 402.9,513.9 403.4,519.9" fill="#b09c85"/>
<polygon points="355.4,637.2 354.0,632.4 357.3,626.8 360.4,629.9" fill="#907b65"/>
<polygon points="280.2,682.6 283.6,673.6 295.0,670.6 296.1,679.6" fill="#624f3d"/>
<polygon points="360.0,624.4 356.3,617.6 361.7,610.3 368.2,615.0" fill="#4b3b2c"/>
<polygon points="288.8,662.8 280.7,663.1 275.9,654.8 283.1,651.0" fill="#3b2e23"/>
<polygon points="409.6,570.5 401.0,566.7 395.8,555.1 403.5,554.5" fill="#715e4a"/>
<polygon points="262.1,499.5 259.0,492.4 265.5,486.9 271.7,492.6" fill="#b09c85"/>
<polygon points="282.6,638.0 280.0,632.0 284.9,626.0 289.8,630.3" fill="#715e4a"/>
<polygon points="395.8,561.5 399.4,553.1 410.6,548.9 411.3,556.7" fill="#4b3b2c"/>
<polygon points="412.4,603.8 404.2,601.0 401.3,590.6 409.4,589.5" fill="#715e4a"/>
<polygon points="354.1,543.0 344.5,539.2 336.0,527.4 343.4,526.8" fill="#7d6a55"/>
<polygon points="297.5,575.3 298.8,566.8 308.3,563.8 310.9,572.2" fill="#715e4a"/>
<polygon points="366.8,630.3 365.1,623.9 369.7,616.5 373.5,620.7" fill="#b09c85"/>
<polygon points="333.7,663.5 332.4,657.7 337.0,651.5 340.4,655.5" fill="#7d6a55"/>
<polygon points="266.8,589.9 263.0,583.4 266.3,574.4 272.1,578.0" fill="#b09c85"/>
<polygon points="347.0,594.1 342.0,588.9 344.3,580.6 351.0,582.9" fill="#624f3d"/>
<polygon points="271.4,641.6 261.4,640.8 250.7,632.1 257.4,629.3" fill="#624f3d"/>
<polygon points="397.6,634.9 389.9,635.5 381.0,629.8 386.0,626.6" fill="#3b2e23"/>
<polygon points="392.3,598.8 388.1,590.4 391.4,578.3 397.6,582.7" fill="#88735d"/>
<polygon points="297.7,664.9 292.5,661.6 293.5,654.7 300.0,655.5" fill="#a5917b"/>
<polygon points="280.9,667.0 278.4,660.9 283.6,655.3 288.7,659.9" fill="#a5917b"/>
<polygon points="277.0,507.5 275.8,498.2 282.5,487.3 286.7,493.2" fill="#624f3d"/>
<polygon points="329.8,475.5 329.1,465.2 338.8,456.1 343.8,464.1" fill="#88735d"/>
<polygon points="367.3,465.8 361.4,456.2 363.1,440.9 370.7,445.3" fill="#88735d"/>
<polygon points="291.4,685.5 283.8,685.7 278.5,678.1 284.9,674.6" fill="#4b3b2c"/>
<polygon points="359.2,520.6 361.3,511.9 370.9,504.3 372.6,511.0" fill="#3b2e23"/>
<polygon points="415.9,526.9 403.9,526.0 392.1,514.6 400.8,510.8" fill="#3b2e23"/>
<polygon points="255.3,515.0 257.9,507.8 266.9,506.6 267.7,514.2" fill="#715e4a"/>
<polygon points="280.1,548.0 283.9,539.7 294.9,533.2 295.2,540.0" fill="#3b2e23"/>
<polygon points="331.2,656.1 324.4,648.0 325.6,634.1 333.9,637.4" fill="#a5917b"/>
<polygon points="350.5,526.1 343.3,527.3 337.7,520.6 343.4,516.4" fill="#624f3d"/>
<polygon points="283.1,463.5 276.0,461.2 276.6,453.3 284.9,452.5" fill="#624f3d"/>
<polygon points="369.7,461.6 363.1,463.7 357.6,457.9 362.8,453.0" fill="#907b65"/>
<polygon points="362.2,474.3 365.3,465.8 375.6,458.5 376.5,465.2" fill="#3b2e23"/>
<polygon points="381.2,472.9 387.6,463.1 402.8,459.0 402.0,468.4" fill="#907b65"/>
<polygon points="291.7,501.4 292.1,494.2 299.4,493.7 302.0,501.7" fill="#907b65"/>
<polygon points="389.0,601.3 382.3,600.3 375.7,593.8 380.4,592.2" fill="#a5917b"/>
<polygon points="296.9,532.9 300.2,526.7 309.0,524.3 309.0,530.2" fill="#7d6a55"/>
<polygon points="366.2,544.3 360.4,538.0 364.0,528.5 372.2,531.8" fill="#4b3b2c"/>
<polygon points="346.3,465.8 347.5,457.8 355.9,451.1 358.1,457.3" fill="#715e4a"/>
<polygon points="322.2,469.9 324.5,460.7 335.3,454.4 337.2,462.2" fill="#4b3b2c"/>
<polygon points="278.5,454.8 281.5,447.9 290.2,447.5 290.6,455.2" fill="#7d6a55"/>
<polygon points="301.1,478.5 307.0,469.8 320.6,467.2 319.7,475.9" fill="#715e4a"/>
<polygon points="395.3,577.6 398.8,569.6 408.6,562.1 408.9,568.0" fill="#a5917b"/>
<polygon points="326.9,485.3 330.3,476.9 339.9,468.2 340.1,474.0" fill="#3b2e23"/>
<polygon points="379.0,604.2 373.6,598.8 373.3,588.7 379.5,590.5" fill="#907b65"/>
<polygon points="323.9,608.6 319.2,602.6 319.5,592.4 325.0,594.8" fill="#3b2e23"/>
<polygon points="335.5,551.9 331.2,541.9 331.7,526.3 336.8,531.0" fill="#3b2e23"/>
<polygon points="346.0,620.6 345.1,611.9 349.2,599.9 351.9,604.7" fill="#3b2e23"/>
<polygon points="290.4,653.3 280.6,650.9 273.2,639.6 281.3,637.5" fill="#88735d"/>
<polygon points="359.9,517.6 358.4,511.0 363.4,503.8 367.2,508.2" fill="#a5917b"/>
<polygon points="331.9,524.6 329.4,514.1 336.5,501.4 342.4,508.1" fill="#624f3d"/>
<polygon points="411.3,626.5 403.3,622.0 397.6,610.7 404.2,610.9" fill="#a5917b"/>
<polygon points="292.7,684.4 294.1,672.9 302.1,658.1 304.0,664.8" fill="#a5917b"/>
<polygon points="318.7,690.1 312.1,681.3 312.8,666.4 320.6,670.1" fill="#a5917b"/>
<polygon points="276.3,668.9 270.2,663.4 272.7,654.1 280.8,656.4" fill="#7d6a55"/>
<polygon points="315.4,644.4 314.2,634.5 320.9,622.5 325.1,628.7" fill="#88735d"/>
<polygon points="269.5,520.4 261.9,514.3 254.9,502.1 260.5,503.8" fill="#b09c85"/>
<polygon points="359.8,596.8 358.3,586.7 366.4,576.1 371.7,583.1" fill="#a5917b"/>
<polygon points="358.1,608.0 356.9,600.0 362.3,590.3 366.0,595.3" fill="#907b65"/>
<polygon points="399.5,513.3 391.0,512.4 385.3,503.3 392.6,500.4" fill="#b09c85"/>
<polygon points="326.6,468.1 326.5,457.0 334.8,443.9 338.4,450.9" fill="#624f3d"/>
<polygon points="388.7,530.0 389.2,523.3 396.1,522.7 398.5,530.1" fill="#907b65"/>
<polygon points="259.3,579.8 261.4,572.8 269.7,571.9 270.9,579.5" fill="#3b2e23"/>
<polygon points="311.9,655.7 308.3,648.7 309.5,637.6 314.2,641.0" fill="#7d6a55"/>
<polygon points="346.3,646.9 351.3,639.9 362.8,636.6 361.8,643.3" fill="#a5917b"/>
<polygon points="402.2,502.2 401.4,492.6 410.5,484.7 415.3,492.2" fill="#715e4a"/>
<polygon points="361.9,514.2 354.7,513.1 346.8,506.5 351.6,505.0" fill="#b09c85"/>
<polygon points="358.0,616.1 351.7,610.2 347.5,598.5 353.0,600.3" fill="#b09c85"/>
<polygon points="401.6,579.8 395.1,575.8 396.0,566.9 403.8,567.6" fill="#a5917b"/>
<polygon points="287.7,669.7 280.8,670.0 278.5,662.9 285.5,659.5" fill="#3b2e23"/>
<polygon points="362.5,643.5 362.8,636.5 370.3,633.4 373.1,640.0" fill="#b09c85"/>
<polygon points="322.0,526.3 325.8,518.7 335.7,511.8 335.6,517.6" fill="#715e4a"/>
<polygon points="366.0,509.1 372.5,501.1 386.2,498.7 384.6,506.7" fill="#624f3d"/>
<polygon points="326.8,648.4 326.9,637.9 334.4,625.2 337.5,631.6" fill="#715e4a"/>
<polygon points="334.5,560.5 327.2,554.0 325.6,540.9 333.4,542.7" fill="#4b3b2c"/>
<polygon points="379.1,474.5 381.1,463.2 393.3,453.9 396.2,462.8" fill="#624f3d"/>
<polygon points="345.3,539.0 336.3,535.9 330.5,524.7 338.3,523.4" fill="#907b65"/>
<polygon points="360.9,514.0 355.7,512.1 352.8,505.3 357.6,504.7" fill="#88735d"/>
<polygon points="320.6,496.0 309.4,492.5 300.1,479.4 309.0,477.7" fill="#907b65"/>
<polygon points="367.4,666.3 356.8,662.8 349.5,649.9 358.4,648.4" fill="#a5917b"/>
<polygon points="337.5,631.3 332.9,623.5 337.6,613.3 344.9,617.9" fill="#4b3b2c"/>
<polygon points="322.3,651.3 317.6,644.0 319.8,632.8 326.2,636.3" fill="#624f3d"/>
<polygon points="360.5,514.0 359.4,507.1 366.0,502.1 370.0,507.7" fill="#624f3d"/>
<polygon points="377.6,566.2 380.3,557.2 391.1,551.2 392.7,558.9" fill="#715e4a"/>
<polygon points="326.7,692.2 320.7,684.9 318.1,671.8 323.7,674.5" fill="#7d6a55"/>
<polygon points="254.4,470.8 256.4,459.9 268.6,452.2 271.5,461.4" fill="#907b65"/>
<polygon points="329.0,574.5 332.1,564.2 341.4,551.5 341.9,557.8" fill="#624f3d"/>
<polygon points="309.4,658.3 305.7,651.4 308.8,641.6 314.4,645.3" fill="#a5917b"/>
<polygon points="305.4,536.8 300.2,533.0 297.3,524.7 302.0,525.3" fill="#715e4a"/>
<polygon points="382.9,554.2 379.6,546.5 381.8,535.1 386.6,539.0" fill="#a5917b"/>
<polygon points="360.9,641.0 354.7,637.1 352.1,627.6 358.1,628.0" fill="#907b65"/>
<polygon points="375.3,472.4 370.7,462.7 375.6,449.3 382.9,454.8" fill="#7d6a55"/>
<polygon points="319.2,482.2 313.6,478.2 316.4,471.5 324.0,473.2" fill="#7d6a55"/>
<polygon points="374.1,671.1 372.2,661.6 378.7,650.5 383.6,656.5" fill="#907b65"/>
<polygon points="298.6,610.3 289.7,610.5 282.4,601.8 289.4,597.9" fill="#624f3d"/>
<polygon points="394.7,551.0 388.2,554.5 382.9,548.7 388.1,542.1" fill="#624f3d"/>
<polygon points="378.3,588.3 373.7,583.2 374.1,574.2 379.5,576.1" fill="#715e4a"/>
<polygon points="262.4,592.3 256.7,584.1 260.0,571.9 268.0,575.9" fill="#3b2e23"/>
<polygon points="254.7,485.5 260.7,476.6 274.7,471.2 273.8,479.1" fill="#88735d"/>
<polygon points="265.4,617.8 263.0,607.8 271.1,597.7 277.2,604.7" fill="#624f3d"/>
<polygon points="334.2,551.2 327.5,550.6 325.1,543.4 331.7,540.9" fill="#624f3d"/>
<polygon points="348.3,551.9 350.3,545.9 357.0,546.3 357.7,553.4" fill="#907b65"/>
<polygon points="290.4,488.8 288.2,481.0 292.1,470.4 296.3,474.8" fill="#88735d"/>
<polygon points="366.2,499.6 363.9,493.3 369.9,489.1 375.1,494.7" fill="#624f3d"/>
<polygon points="369.4,481.8 363.6,473.8 365.4,460.8 372.7,464.3" fill="#4b3b2c"/>
<polygon points="391.6,467.0 393.4,462.4 399.5,459.9 400.0,464.2" fill="#907b65"/>
<polygon points="309.9,530.8 311.9,520.8 323.4,514.9 326.0,523.7" fill="#7d6a55"/>
<polygon points="315.0,677.9 305.4,674.6 297.0,663.3 304.4,662.2" fill="#907b65"/>
<polygon points="316.5,610.4 310.4,603.3 309.1,590.3 315.7,592.9" fill="#88735d"/>
<polygon points="409.4,637.1 400.7,636.3 391.0,628.7 396.9,626.3" fill="#715e4a"/>
<polygon points="385.6,622.2 386.5,617.2 392.2,614.3 393.6,618.8" fill="#b09c85"/>
<polygon points="400.0,515.1 401.2,507.4 409.3,500.8 411.4,506.7" fill="#a5917b"/>
<polygon points="381.0,521.9 376.8,518.6 377.7,512.3 382.8,513.4" fill="#7d6a55"/>
<polygon points="312.3,492.6 300.5,490.4 291.0,477.5 300.4,474.5" fill="#3b2e23"/>
<polygon points="360.6,670.0 358.7,663.2 361.6,653.8 365.1,657.5" fill="#b09c85"/>
<polygon points="285.8,637.3 285.4,626.1 291.4,611.1 294.5,617.4" fill="#b09c85"/>
<polygon points="324.1,504.8 324.0,497.1 332.1,492.5 335.6,499.4" fill="#88735d"/>
<polygon points="342.1,583.1 337.9,577.4 337.0,567.4 341.5,569.7" fill="#3b2e23"/>
<polygon points="391.3,664.8 388.9,656.4 393.9,645.5 398.7,650.6" fill="#a5917b"/>
<polygon points="288.8,485.0 287.2,474.7 292.0,460.7 295.9,466.4" fill="#715e4a"/>
<polygon points="313.5,573.0 317.4,568.7 325.0,567.6 324.0,571.9" fill="#715e4a"/>
<polygon points="392.8,545.5 387.1,540.1 383.8,529.5 388.9,531.1" fill="#7d6a55"/>
<polygon points="306.0,573.2 308.9,569.2 315.3,568.4 314.7,572.6" fill="#88735d"/>
<polygon points="358.1,508.3 347.3,505.3 335.1,494.7 342.3,493.6" fill="#88735d"/>
<polygon points="386.4,646.0 375.0,644.4 361.1,635.5 368.0,633.6" fill="#a5917b"/>
<polygon points="409.6,543.8 405.8,540.6 405.4,534.1 409.5,535.0" fill="#88735d"/>
<polygon points="327.7,658.6 326.0,646.9 334.4,633.3 339.9,640.8" fill="#907b65"/>
<polygon points="371.5,476.7 364.4,476.1 357.6,469.4 362.7,467.2" fill="#3b2e23"/>
<polygon points="312.1,557.2 314.7,549.9 323.2,550.4 323.8,559.0" fill="#a5917b"/>
<polygon points="283.3,681.8 282.0,670.7 285.7,654.9 288.8,660.7" fill="#7d6a55"/>
<polygon points="380.2,473.9 378.9,463.1 386.8,450.6 391.7,457.6" fill="#88735d"/>
<polygon points="262.7,495.8 261.4,484.8 270.5,473.4 275.9,481.1" fill="#4b3b2c"/>
<polygon points="350.8,563.6 344.2,556.6 342.5,543.5 349.4,545.8" fill="#b09c85"/>
<polygon points="282.8,566.7 276.7,565.9 272.0,559.3 277.0,557.4" fill="#7d6a55"/>
<polygon points="320.4,670.1 325.4,661.2 337.3,652.4 336.7,658.9" fill="#907b65"/>
<polygon points="400.6,664.0 396.3,654.1 396.1,638.4 400.9,643.0" fill="#907b65"/>
<polygon points="393.0,542.5 395.7,538.3 402.0,537.3 401.7,541.6" fill="#715e4a"/>
<polygon points="389.0,569.9 381.4,565.2 374.7,554.1 380.7,554.8" fill="#7d6a55"/>
<polygon points="296.1,564.1 285.6,560.4 275.4,548.3 283.0,547.5" fill="#b09c85"/>
<polygon points="323.8,494.4 316.4,491.1 315.9,481.6 324.1,481.4" fill="#624f3d"/>
<polygon points="305.1,483.0 296.9,481.3 290.3,472.1 297.0,470.2" fill="#3b2e23"/>
<polygon points="268.4,668.7 264.7,660.0 265.9,646.7 270.7,650.9" fill="#4b3b2c"/>
<polygon points="284.7,636.9 275.3,629.9 268.2,614.8 275.9,616.3" fill="#a5917b"/>
<polygon points="404.3,477.8 396.3,479.9 389.8,472.7 396.2,467.1" fill="#4b3b2c"/>
<polygon points="280.6,607.9 276.6,600.6 279.4,589.9 285.3,593.7" fill="#88735d"/>
<polygon points="261.1,652.8 256.8,645.6 256.8,633.8 261.8,636.9" fill="#b09c85"/>
<polygon points="288.1,588.1 288.7,582.3 294.8,577.5 296.7,582.2" fill="#624f3d"/>
<polygon points="288.8,475.8 284.1,471.2 286.8,464.3 293.3,466.5" fill="#4b3b2c"/>
<polygon points="293.0,491.4 283.6,488.1 276.6,476.5 284.4,475.3" fill="#4b3b2c"/>
<polygon points="283.6,476.8 285.0,466.9 294.2,456.2 296.5,463.0" fill="#7d6a55"/>
<polygon points="330.1,535.2 333.3,528.3 342.6,526.6 343.0,533.9" fill="#907b65"/>
<polygon points="266.6,669.0 257.9,665.7 254.7,654.5 263.3,653.5" fill="#624f3d"/>
<polygon points="342.5,683.8 338.4,678.7 342.5,672.9 348.9,676.3" fill="#7d6a55"/>
<polygon points="317.3,679.1 310.9,669.7 306.8,653.7 312.3,657.5" fill="#a5917b"/>
<polygon points="383.6,658.4 377.0,653.8 377.2,643.9 384.8,644.9" fill="#7d6a55"/>
<polygon points="313.5,481.2 303.4,481.2 291.6,473.4 298.1,470.1" fill="#3b2e23"/>
<polygon points="283.6,511.8 277.0,512.0 273.9,505.2 280.1,502.0" fill="#4b3b2c"/>
<polygon points="294.3,644.4 293.7,639.4 298.2,634.6 300.7,638.3" fill="#a5917b"/>
<polygon points="304.8,653.0 296.4,648.6 290.7,636.8 297.8,636.8" fill="#88735d"/>
<polygon points="283.8,658.7 274.9,655.3 264.9,645.7 270.8,645.5" fill="#88735d"/>
<polygon points="342.1,630.5 344.2,625.3 351.0,622.5 351.5,627.2" fill="#3b2e23"/>
<polygon points="344.2,655.1 343.3,648.3 349.9,643.6 353.6,649.3" fill="#624f3d"/>
<polygon points="398.5,466.5 395.8,457.0 401.7,445.2 407.4,451.0" fill="#3b2e23"/>
<polygon points="266.0,680.3 261.3,677.0 261.9,670.1 267.6,670.9" fill="#715e4a"/>
<polygon points="370.5,654.8 361.7,650.0 359.8,637.6 369.1,637.7" fill="#b09c85"/>
<polygon points="377.6,468.8 381.5,460.0 393.3,457.4 393.9,466.4" fill="#a5917b"/>
<polygon points="393.0,608.0 388.1,607.0 385.1,601.4 389.4,600.1" fill="#715e4a"/>
<polygon points="319.3,570.0 321.9,565.6 328.3,564.7 328.1,569.3" fill="#88735d"/>
<polygon points="365.7,643.4 354.0,644.1 341.3,634.5 349.3,629.6" fill="#4b3b2c"/>
<polygon points="406.2,599.7 396.2,600.9 386.0,592.6 393.0,587.7" fill="#907b65"/>
<polygon points="301.2,579.2 292.6,575.9 290.3,564.9 299.2,563.9" fill="#4b3b2c"/>
<polygon points="306.5,493.1 307.3,485.8 314.8,485.3 317.1,493.5" fill="#4b3b2c"/>
<polygon points="271.5,600.9 267.8,590.1 270.7,574.1 276.2,579.6" fill="#4b3b2c"/>
<polygon points="392.0,590.8 391.1,583.0 398.6,577.2 402.9,583.7" fill="#4b3b2c"/>
<polygon points="391.6,599.6 382.6,596.8 376.7,585.8 384.3,584.4" fill="#715e4a"/>
<polygon points="332.9,587.3 325.4,581.6 322.0,569.2 329.1,570.4" fill="#a5917b"/>
<polygon points="311.7,504.8 304.0,498.6 304.4,486.2 313.4,488.0" fill="#715e4a"/>
<polygon points="287.8,677.5 281.3,674.1 278.1,664.9 284.1,664.8" fill="#a5917b"/>
<polygon points="298.4,633.3 300.8,628.0 307.9,624.6 308.2,629.2" fill="#88735d"/>
<polygon points="350.1,580.7 353.1,570.5 363.9,559.8 365.1,566.9" fill="#3b2e23"/>
<polygon points="297.5,683.2 291.1,675.8 287.3,662.2 293.1,664.8" fill="#715e4a"/>
<polygon points="272.5,505.5 276.4,497.2 287.1,490.3 287.3,496.7" fill="#907b65"/>
<polygon points="362.2,631.8 365.0,621.9 376.1,612.6 377.5,620.0" fill="#624f3d"/>
<polygon points="328.0,480.7 319.8,480.2 313.0,471.8 319.5,468.9" fill="#b09c85"/>
<polygon points="396.3,588.7 398.6,580.3 408.9,576.3 410.6,584.3" fill="#907b65"/>
<polygon points="320.5,563.8 312.5,559.9 309.9,548.8 317.8,548.6" fill="#b09c85"/>
<polygon points="331.8,597.7 334.6,589.1 343.2,579.2 343.7,584.8" fill="#88735d"/>
<polygon points="317.8,530.5 311.3,523.6 312.6,511.4 320.5,514.1" fill="#b09c85"/>
<polygon points="336.4,480.9 341.8,471.1 355.2,462.1 354.6,469.4" fill="#a5917b"/>
<polygon points="410.9,502.0 402.2,504.7 393.6,497.7 399.8,491.6" fill="#7d6a55"/>
<polygon points="301.1,664.8 294.4,661.2 292.7,651.7 299.5,651.8" fill="#b09c85"/>
<polygon points="340.5,581.3 333.8,574.2 331.4,560.8 338.0,563.2" fill="#715e4a"/>
<polygon points="328.3,459.7 324.1,456.0 324.5,449.0 329.5,450.2" fill="#3b2e23"/>
<polygon points="310.0,585.2 315.0,576.7 327.5,574.6 327.1,583.4" fill="#88735d"/>
<polygon points="313.4,640.0 314.1,628.6 323.6,615.8 327.0,623.3" fill="#907b65"/>
<polygon points="284.4,538.8 279.3,527.6 283.1,511.1 290.5,516.8" fill="#907b65"/>
<polygon points="357.2,527.7 351.6,521.1 355.2,511.5 363.2,514.9" fill="#b09c85"/>
<polygon points="343.5,579.4 349.8,571.1 363.0,564.2 361.6,570.7" fill="#b09c85"/>
<polygon points="276.8,600.4 283.3,594.0 295.8,591.6 293.7,598.0" fill="#7d6a55"/>
<polygon points="362.1,459.3 357.6,454.6 361.4,449.0 368.0,451.9" fill="#4b3b2c"/>
<polygon points="322.4,478.1 317.6,477.0 314.3,471.6 318.4,470.4" fill="#3b2e23"/>
<polygon points="354.1,660.6 343.3,657.1 333.0,645.1 340.8,643.8" fill="#a5917b"/>
<polygon points="326.0,483.4 318.9,484.7 314.3,477.8 320.6,473.3" fill="#907b65"/>
<polygon points="272.3,679.1 266.9,672.4 267.5,660.8 273.8,663.5" fill="#7d6a55"/>
<polygon points="362.6,617.4 355.3,612.7 349.4,601.8 355.2,602.5" fill="#4b3b2c"/>
<polygon points="283.5,518.9 278.8,513.1 283.6,506.9 290.9,510.8" fill="#715e4a"/>
<polygon points="289.3,600.3 285.0,597.1 285.4,590.6 290.3,591.5" fill="#7d6a55"/>
<polygon points="318.7,598.0 322.5,592.9 330.8,589.9 330.1,594.6" fill="#624f3d"/>
<polygon points="303.3,670.5 302.3,660.0 308.0,646.2 311.6,652.2" fill="#88735d"/>
<polygon points="403.5,478.2 400.5,468.5 406.1,456.1 411.9,461.8" fill="#b09c85"/>
<polygon points="311.0,660.7 302.3,657.7 298.3,646.8 306.5,645.5" fill="#624f3d"/>
<polygon points="286.0,543.9 279.5,541.4 281.3,534.6 289.3,534.6" fill="#715e4a"/>
<polygon points="283.9,578.7 276.0,578.8 268.3,571.8 273.9,568.7" fill="#907b65"/>
<polygon points="323.2,671.7 318.7,664.1 320.1,652.0 325.8,655.5" fill="#715e4a"/>
<polygon points="302.9,467.2 293.9,464.0 285.6,453.6 292.3,452.7" fill="#624f3d"/>
<polygon points="274.9,526.2 270.6,516.7 270.3,501.6 275.0,506.0" fill="#a5917b"/>
<polygon points="272.8,538.0 279.4,530.5 292.8,526.6 291.0,533.4" fill="#a5917b"/>
<polygon points="300.9,567.5 298.2,560.2 304.6,554.1 310.5,559.8" fill="#4b3b2c"/>
<polygon points="351.6,566.6 344.8,556.8 343.5,540.0 350.7,543.9" fill="#3b2e23"/>
<polygon points="290.4,658.5 286.7,653.2 290.0,646.2 295.7,649.3" fill="#4b3b2c"/>
<polygon points="373.3,631.1 366.9,632.2 364.0,625.8 370.2,621.8" fill="#7d6a55"/>
<polygon points="320.4,477.6 313.2,475.1 312.8,466.5 320.9,465.7" fill="#907b65"/>
<polygon points="277.8,670.9 267.4,667.3 259.6,654.4 268.2,653.1" fill="#4b3b2c"/>
<polygon points="276.7,529.8 269.6,521.8 266.7,507.1 273.5,509.9" fill="#88735d"/>
<polygon points="381.8,665.7 374.0,658.6 367.5,644.6 373.7,646.8" fill="#7d6a55"/>
<polygon points="324.4,640.1 313.9,641.7 302.9,633.2 310.2,627.8" fill="#88735d"/>
<polygon points="302.2,652.4 294.2,651.0 289.4,642.0 296.3,639.8" fill="#907b65"/>
<polygon points="301.4,598.6 295.4,594.3 296.3,585.5 303.6,586.7" fill="#624f3d"/>
<polygon points="322.9,632.3 318.5,626.5 322.5,619.3 329.2,622.7" fill="#624f3d"/>
<polygon points="335.5,509.0 339.9,501.4 351.0,497.9 350.8,505.0" fill="#715e4a"/>
<polygon points="389.3,484.1 394.5,474.9 408.0,469.3 407.8,477.5" fill="#7d6a55"/>
<polygon points="401.6,612.6 401.4,607.0 407.1,603.4 409.8,608.2" fill="#715e4a"/>
<polygon points="365.0,480.9 366.9,471.3 376.5,461.5 378.4,468.3" fill="#a5917b"/>
<polygon points="289.6,479.2 297.0,470.4 312.3,464.4 310.4,471.9" fill="#3b2e23"/>
<polygon points="379.2,647.6 369.7,647.3 359.5,639.2 366.0,636.1" fill="#a5917b"/>
<polygon points="315.4,580.2 319.4,569.9 330.4,558.1 330.5,564.9" fill="#7d6a55"/>
<polygon points="409.0,648.4 401.0,645.2 393.5,635.7 399.4,635.2" fill="#a5917b"/>
<polygon points="341.8,514.6 337.2,511.1 338.0,504.1 343.6,505.2" fill="#a5917b"/>
<polygon points="354.9,494.5 350.4,485.8 352.3,472.3 358.4,476.5" fill="#a5917b"/>
<polygon points="257.3,616.3 255.4,609.7 261.4,604.5 266.1,609.8" fill="#624f3d"/>
<polygon points="384.5,491.7 387.5,483.3 397.5,476.2 398.4,482.7" fill="#3b2e23"/>
<polygon points="312.6,672.6 319.6,666.3 332.5,662.8 330.1,668.5" fill="#b09c85"/>
<polygon points="388.6,483.9 381.7,481.7 377.4,473.4 383.4,472.2" fill="#7d6a55"/>
<polygon points="387.8,524.3 390.6,519.0 398.0,517.8 398.0,523.4" fill="#624f3d"/>
<polygon points="315.0,563.7 307.7,563.1 300.0,556.5 305.1,554.4" fill="#7d6a55"/>
<polygon points="333.1,685.7 325.4,680.9 323.7,669.4 331.8,670.0" fill="#4b3b2c"/>
<polygon points="274.6,573.1 272.2,565.7 275.2,555.2 279.3,559.3" fill="#7d6a55"/>
<polygon points="309.0,479.1 308.3,471.5 315.5,465.3 319.4,471.4" fill="#4b3b2c"/>
<polygon points="359.9,481.1 355.0,472.7 353.0,458.7 357.7,462.3" fill="#624f3d"/>
<polygon points="294.3,499.9 299.0,490.9 311.8,487.2 311.9,496.0" fill="#624f3d"/>
<polygon points="276.8,624.6 270.6,620.0 270.5,610.2 277.7,611.3" fill="#715e4a"/>
<polygon points="300.0,543.4 303.1,535.2 313.3,528.6 314.1,535.2" fill="#a5917b"/>
<polygon points="256.4,480.6 263.7,471.9 278.6,470.1 276.8,479.3" fill="#b09c85"/>
<polygon points="401.6,675.5 393.2,673.6 386.5,664.1 393.3,662.2" fill="#4b3b2c"/>
<polygon points="354.2,599.9 348.3,599.2 343.7,592.9 348.6,591.0" fill="#b09c85"/>
<polygon points="268.1,468.6 269.1,460.9 276.3,452.7 278.2,458.0" fill="#7d6a55"/>
<polygon points="273.7,600.3 263.2,597.2 253.4,585.5 261.1,584.2" fill="#907b65"/>
<polygon points="359.5,578.9 354.8,572.5 355.4,561.7 361.1,564.4" fill="#624f3d"/>
<polygon points="393.3,497.2 390.2,490.5 394.0,481.8 399.2,485.7" fill="#715e4a"/>
<polygon points="345.9,569.4 340.2,562.3 340.7,550.2 347.4,553.0" fill="#3b2e23"/>
<polygon points="391.2,664.0 388.7,651.8 396.9,637.0 403.2,644.6" fill="#7d6a55"/>
<polygon points="369.4,538.8 363.4,531.1 363.5,517.7 370.5,520.8" fill="#715e4a"/>
<polygon points="325.0,605.2 327.7,598.6 336.5,595.0 337.1,601.0" fill="#7d6a55"/>
<polygon points="394.9,510.6 384.7,508.2 376.0,496.9 384.0,494.7" fill="#715e4a"/>
<polygon points="343.4,676.9 339.2,670.8 339.8,660.8 344.9,663.4" fill="#4b3b2c"/>
<polygon points="286.9,500.9 275.9,498.4 264.8,487.2 272.6,485.2" fill="#4b3b2c"/>
<polygon points="363.3,503.6 353.9,499.7 348.0,487.5 356.2,486.7" fill="#88735d"/>
<polygon points="291.9,589.4 288.7,583.8 292.8,577.3 298.1,580.9" fill="#907b65"/>
<polygon points="386.5,620.3 383.6,610.5 385.5,595.9 389.6,600.8" fill="#3b2e23"/>
</g></g>
<g clip-path="url(#cp3)">
<rect x="406.3" y="456.8" width="138.2" height="220.0" fill="#5e4f30"/>
<g filter="url(#bl05)">
<rect x="445.7" y="575.3" width="44.0" height="12.2" rx="5.8" transform="rotate(91 467.7 581.4)" fill="#cbbd84" stroke="#6f5e38" stroke-width="1"/>
<rect x="408.9" y="634.7" width="32.4" height="12.5" rx="5.8" transform="rotate(34 425.1 641.0)" fill="#b3a36c" stroke="#6f5e38" stroke-width="1"/>
<rect x="423.0" y="460.6" width="41.1" height="12.7" rx="5.8" transform="rotate(8 443.5 466.9)" fill="#b3a36c" stroke="#6f5e38" stroke-width="1"/>
<rect x="532.8" y="598.7" width="36.0" height="11.4" rx="5.8" transform="rotate(3 550.8 604.4)" fill="#cbbd84" stroke="#6f5e38" stroke-width="1"/>
<rect x="383.1" y="447.2" width="42.9" height="12.5" rx="5.8" transform="rotate(140 404.5 453.5)" fill="#d1c48a" stroke="#6f5e38" stroke-width="1"/>
<rect x="449.0" y="644.1" width="33.5" height="12.6" rx="5.8" transform="rotate(90 465.8 650.4)" fill="#c8b87e" stroke="#6f5e38" stroke-width="1"/>
<rect x="445.5" y="505.9" width="45.9" height="13.5" rx="5.8" transform="rotate(151 468.5 512.7)" fill="#d1c48a" stroke="#6f5e38" stroke-width="1"/>
<rect x="431.7" y="495.3" width="27.5" height="11.2" rx="5.8" transform="rotate(138 445.4 500.8)" fill="#b3a36c" stroke="#6f5e38" stroke-width="1"/>
<rect x="400.9" y="510.3" width="21.7" height="11.0" rx="5.8" transform="rotate(123 411.8 515.8)" fill="#bcad74" stroke="#6f5e38" stroke-width="1"/>
<rect x="412.2" y="660.2" width="32.2" height="13.5" rx="5.8" transform="rotate(72 428.3 666.9)" fill="#c8b87e" stroke="#6f5e38" stroke-width="1"/>
<rect x="467.4" y="487.3" width="37.5" height="11.8" rx="5.8" transform="rotate(56 486.1 493.2)" fill="#c8b87e" stroke="#6f5e38" stroke-width="1"/>
<rect x="539.1" y="624.0" width="23.1" height="11.6" rx="5.8" transform="rotate(18 550.7 629.8)" fill="#c8b87e" stroke="#6f5e38" stroke-width="1"/>
<rect x="450.8" y="557.8" width="37.7" height="11.5" rx="5.8" transform="rotate(92 469.7 563.6)" fill="#bcad74" stroke="#6f5e38" stroke-width="1"/>
<rect x="447.2" y="531.7" width="30.3" height="13.5" rx="5.8" transform="rotate(0 462.3 538.4)" fill="#cbbd84" stroke="#6f5e38" stroke-width="1"/>
<rect x="430.9" y="654.7" width="25.5" height="12.0" rx="5.8" transform="rotate(154 443.6 660.7)" fill="#cbbd84" stroke="#6f5e38" stroke-width="1"/>
<rect x="397.8" y="680.4" width="25.5" height="11.6" rx="5.8" transform="rotate(139 410.6 686.2)" fill="#d1c48a" stroke="#6f5e38" stroke-width="1"/>
<rect x="518.0" y="533.3" width="21.9" height="11.5" rx="5.8" transform="rotate(115 529.0 539.0)" fill="#c8b87e" stroke="#6f5e38" stroke-width="1"/>
<rect x="475.9" y="528.8" width="31.8" height="13.4" rx="5.8" transform="rotate(87 491.8 535.5)" fill="#cbbd84" stroke="#6f5e38" stroke-width="1"/>
<rect x="398.2" y="533.1" width="36.3" height="11.8" rx="5.8" transform="rotate(41 416.3 539.0)" fill="#cbbd84" stroke="#6f5e38" stroke-width="1"/>
<rect x="415.2" y="484.4" width="39.2" height="13.4" rx="5.8" transform="rotate(35 434.8 491.1)" fill="#b3a36c" stroke="#6f5e38" stroke-width="1"/>
<rect x="521.9" y="586.4" width="31.0" height="11.3" rx="5.8" transform="rotate(7 537.4 592.1)" fill="#d1c48a" stroke="#6f5e38" stroke-width="1"/>
<rect x="419.6" y="610.2" width="26.7" height="13.1" rx="5.8" transform="rotate(107 433.0 616.7)" fill="#d1c48a" stroke="#6f5e38" stroke-width="1"/>
<rect x="456.0" y="665.9" width="45.4" height="11.3" rx="5.8" transform="rotate(86 478.7 671.5)" fill="#cbbd84" stroke="#6f5e38" stroke-width="1"/>
<rect x="472.0" y="507.4" width="43.9" height="11.5" rx="5.8" transform="rotate(3 493.9 513.2)" fill="#d1c48a" stroke="#6f5e38" stroke-width="1"/>
<rect x="450.4" y="499.7" width="21.2" height="11.7" rx="5.8" transform="rotate(96 461.0 505.6)" fill="#bcad74" stroke="#6f5e38" stroke-width="1"/>
<rect x="393.4" y="472.7" width="31.7" height="11.8" rx="5.8" transform="rotate(132 409.3 478.6)" fill="#cbbd84" stroke="#6f5e38" stroke-width="1"/>
<rect x="478.6" y="473.5" width="20.9" height="11.0" rx="5.8" transform="rotate(164 489.1 479.0)" fill="#d1c48a" stroke="#6f5e38" stroke-width="1"/>
<rect x="532.2" y="443.9" width="36.5" height="12.2" rx="5.8" transform="rotate(131 550.5 450.0)" fill="#d1c48a" stroke="#6f5e38" stroke-width="1"/>
<rect x="400.6" y="456.5" width="31.8" height="11.9" rx="5.8" transform="rotate(8 416.5 462.5)" fill="#bcad74" stroke="#6f5e38" stroke-width="1"/>
<rect x="508.4" y="661.7" width="29.1" height="12.7" rx="5.8" transform="rotate(162 523.0 668.1)" fill="#b3a36c" stroke="#6f5e38" stroke-width="1"/>
<rect x="531.0" y="446.7" width="33.0" height="11.0" rx="5.8" transform="rotate(119 547.5 452.2)" fill="#b3a36c" stroke="#6f5e38" stroke-width="1"/>
<rect x="477.8" y="587.1" width="22.1" height="12.6" rx="5.8" transform="rotate(179 488.8 593.4)" fill="#b3a36c" stroke="#6f5e38" stroke-width="1"/>
<rect x="492.9" y="533.4" width="39.1" height="12.5" rx="5.8" transform="rotate(79 512.4 539.6)" fill="#cbbd84" stroke="#6f5e38" stroke-width="1"/>
<rect x="397.5" y="621.6" width="20.8" height="12.5" rx="5.8" transform="rotate(87 407.9 627.9)" fill="#bcad74" stroke="#6f5e38" stroke-width="1"/>
<rect x="529.5" y="466.0" width="40.3" height="12.7" rx="5.8" transform="rotate(88 549.6 472.3)" fill="#c8b87e" stroke="#6f5e38" stroke-width="1"/>
<rect x="436.0" y="473.6" width="35.9" height="12.3" rx="5.8" transform="rotate(136 454.0 479.7)" fill="#d1c48a" stroke="#6f5e38" stroke-width="1"/>
<rect x="479.8" y="546.7" width="43.2" height="11.8" rx="5.8" transform="rotate(120 501.4 552.6)" fill="#bcad74" stroke="#6f5e38" stroke-width="1"/>
<rect x="477.4" y="635.2" width="39.6" height="11.5" rx="5.8" transform="rotate(39 497.2 640.9)" fill="#bcad74" stroke="#6f5e38" stroke-width="1"/>
<rect x="477.1" y="515.9" width="23.5" height="12.2" rx="5.8" transform="rotate(151 488.9 522.0)" fill="#c8b87e" stroke="#6f5e38" stroke-width="1"/>
<rect x="496.1" y="670.9" width="27.2" height="11.4" rx="5.8" transform="rotate(81 509.7 676.6)" fill="#d1c48a" stroke="#6f5e38" stroke-width="1"/>
<rect x="529.5" y="641.4" width="29.9" height="12.3" rx="5.8" transform="rotate(121 544.5 647.5)" fill="#cbbd84" stroke="#6f5e38" stroke-width="1"/>
<rect x="457.3" y="456.4" width="20.8" height="13.2" rx="5.8" transform="rotate(7 467.7 463.0)" fill="#d1c48a" stroke="#6f5e38" stroke-width="1"/>
<rect x="466.6" y="514.7" width="40.6" height="11.0" rx="5.8" transform="rotate(24 486.8 520.2)" fill="#b3a36c" stroke="#6f5e38" stroke-width="1"/>
<rect x="411.6" y="626.0" width="26.9" height="12.9" rx="5.8" transform="rotate(143 425.1 632.5)" fill="#c8b87e" stroke="#6f5e38" stroke-width="1"/>
<rect x="448.2" y="592.0" width="37.0" height="13.0" rx="5.8" transform="rotate(173 466.7 598.5)" fill="#bcad74" stroke="#6f5e38" stroke-width="1"/>
<rect x="414.3" y="555.2" width="24.6" height="11.0" rx="5.8" transform="rotate(85 426.6 560.7)" fill="#c8b87e" stroke="#6f5e38" stroke-width="1"/>
<rect x="408.9" y="504.9" width="29.0" height="12.7" rx="5.8" transform="rotate(94 423.3 511.3)" fill="#cbbd84" stroke="#6f5e38" stroke-width="1"/>
<rect x="534.9" y="477.3" width="42.1" height="12.7" rx="5.8" transform="rotate(40 556.0 483.6)" fill="#b3a36c" stroke="#6f5e38" stroke-width="1"/>
<rect x="533.9" y="615.0" width="23.4" height="12.1" rx="5.8" transform="rotate(113 545.6 621.1)" fill="#c8b87e" stroke="#6f5e38" stroke-width="1"/>
<rect x="434.0" y="577.1" width="42.9" height="13.0" rx="5.8" transform="rotate(170 455.4 583.6)" fill="#b3a36c" stroke="#6f5e38" stroke-width="1"/>
<rect x="436.0" y="677.9" width="22.6" height="13.2" rx="5.8" transform="rotate(144 447.3 684.5)" fill="#c8b87e" stroke="#6f5e38" stroke-width="1"/>
<rect x="406.2" y="657.7" width="45.5" height="13.4" rx="5.8" transform="rotate(97 428.9 664.4)" fill="#d1c48a" stroke="#6f5e38" stroke-width="1"/>
<rect x="426.6" y="613.9" width="20.4" height="12.3" rx="5.8" transform="rotate(7 436.8 620.1)" fill="#d1c48a" stroke="#6f5e38" stroke-width="1"/>
<rect x="467.2" y="626.7" width="32.7" height="11.1" rx="5.8" transform="rotate(146 483.6 632.2)" fill="#c8b87e" stroke="#6f5e38" stroke-width="1"/>
<rect x="446.9" y="447.0" width="33.9" height="12.7" rx="5.8" transform="rotate(165 463.9 453.4)" fill="#b3a36c" stroke="#6f5e38" stroke-width="1"/>
<rect x="399.0" y="564.3" width="38.8" height="13.1" rx="5.8" transform="rotate(124 418.4 570.8)" fill="#b3a36c" stroke="#6f5e38" stroke-width="1"/>
<rect x="468.4" y="606.9" width="39.7" height="12.1" rx="5.8" transform="rotate(101 488.2 612.9)" fill="#cbbd84" stroke="#6f5e38" stroke-width="1"/>
<rect x="477.0" y="566.2" width="41.9" height="12.4" rx="5.8" transform="rotate(56 497.9 572.4)" fill="#b3a36c" stroke="#6f5e38" stroke-width="1"/>
<rect x="531.2" y="651.2" width="35.8" height="11.8" rx="5.8" transform="rotate(25 549.2 657.1)" fill="#cbbd84" stroke="#6f5e38" stroke-width="1"/>
<rect x="466.7" y="578.4" width="25.2" height="12.3" rx="5.8" transform="rotate(91 479.3 584.6)" fill="#cbbd84" stroke="#6f5e38" stroke-width="1"/>
<rect x="444.9" y="569.5" width="21.1" height="13.3" rx="5.8" transform="rotate(98 455.5 576.2)" fill="#cbbd84" stroke="#6f5e38" stroke-width="1"/>
<rect x="401.9" y="460.9" width="24.3" height="13.3" rx="5.8" transform="rotate(83 414.1 467.5)" fill="#b3a36c" stroke="#6f5e38" stroke-width="1"/>
<rect x="426.3" y="554.2" width="23.3" height="12.1" rx="5.8" transform="rotate(147 438.0 560.3)" fill="#b3a36c" stroke="#6f5e38" stroke-width="1"/>
<rect x="464.0" y="465.8" width="30.9" height="11.1" rx="5.8" transform="rotate(47 479.5 471.3)" fill="#c8b87e" stroke="#6f5e38" stroke-width="1"/>
<rect x="389.9" y="476.9" width="20.3" height="11.7" rx="5.8" transform="rotate(130 400.1 482.7)" fill="#bcad74" stroke="#6f5e38" stroke-width="1"/>
<rect x="475.3" y="464.7" width="39.0" height="11.3" rx="5.8" transform="rotate(92 494.8 470.4)" fill="#d1c48a" stroke="#6f5e38" stroke-width="1"/>
<rect x="489.3" y="610.4" width="42.8" height="11.1" rx="5.8" transform="rotate(114 510.7 615.9)" fill="#cbbd84" stroke="#6f5e38" stroke-width="1"/>
<rect x="473.0" y="569.9" width="42.5" height="12.3" rx="5.8" transform="rotate(39 494.2 576.1)" fill="#bcad74" stroke="#6f5e38" stroke-width="1"/>
<rect x="511.2" y="588.3" width="42.3" height="11.6" rx="5.8" transform="rotate(133 532.4 594.1)" fill="#d1c48a" stroke="#6f5e38" stroke-width="1"/>
<rect x="526.6" y="515.2" width="28.2" height="13.3" rx="5.8" transform="rotate(39 540.7 521.9)" fill="#bcad74" stroke="#6f5e38" stroke-width="1"/>
<rect x="525.1" y="471.1" width="26.2" height="12.8" rx="5.8" transform="rotate(47 538.3 477.5)" fill="#c8b87e" stroke="#6f5e38" stroke-width="1"/>
<rect x="447.8" y="668.1" width="34.1" height="12.8" rx="5.8" transform="rotate(36 464.8 674.5)" fill="#c8b87e" stroke="#6f5e38" stroke-width="1"/>
<rect x="395.2" y="577.3" width="29.3" height="13.1" rx="5.8" transform="rotate(65 409.9 583.9)" fill="#cbbd84" stroke="#6f5e38" stroke-width="1"/>
<rect x="474.3" y="522.1" width="46.0" height="13.1" rx="5.8" transform="rotate(145 497.2 528.6)" fill="#b3a36c" stroke="#6f5e38" stroke-width="1"/>
<rect x="394.3" y="447.8" width="34.3" height="12.3" rx="5.8" transform="rotate(102 411.5 453.9)" fill="#bcad74" stroke="#6f5e38" stroke-width="1"/>
<rect x="412.8" y="467.1" width="24.5" height="11.4" rx="5.8" transform="rotate(51 425.0 472.8)" fill="#c8b87e" stroke="#6f5e38" stroke-width="1"/>
<rect x="469.5" y="472.0" width="37.7" height="11.2" rx="5.8" transform="rotate(17 488.3 477.6)" fill="#b3a36c" stroke="#6f5e38" stroke-width="1"/>
<rect x="454.4" y="564.3" width="31.2" height="12.5" rx="5.8" transform="rotate(2 470.0 570.5)" fill="#c8b87e" stroke="#6f5e38" stroke-width="1"/>
<rect x="515.3" y="482.6" width="31.8" height="12.8" rx="5.8" transform="rotate(73 531.2 489.0)" fill="#bcad74" stroke="#6f5e38" stroke-width="1"/>
<rect x="472.1" y="462.0" width="40.6" height="11.8" rx="5.8" transform="rotate(15 492.4 467.9)" fill="#b3a36c" stroke="#6f5e38" stroke-width="1"/>
<rect x="469.1" y="485.5" width="35.2" height="11.9" rx="5.8" transform="rotate(137 486.7 491.4)" fill="#d1c48a" stroke="#6f5e38" stroke-width="1"/>
<rect x="522.0" y="619.9" width="40.2" height="13.0" rx="5.8" transform="rotate(73 542.1 626.4)" fill="#d1c48a" stroke="#6f5e38" stroke-width="1"/>
<rect x="517.0" y="607.9" width="39.9" height="12.9" rx="5.8" transform="rotate(73 537.0 614.3)" fill="#bcad74" stroke="#6f5e38" stroke-width="1"/>
<rect x="389.6" y="522.7" width="32.2" height="11.0" rx="5.8" transform="rotate(64 405.7 528.2)" fill="#cbbd84" stroke="#6f5e38" stroke-width="1"/>
<rect x="379.8" y="505.5" width="45.0" height="11.7" rx="5.8" transform="rotate(39 402.3 511.4)" fill="#b3a36c" stroke="#6f5e38" stroke-width="1"/>
<rect x="471.6" y="568.1" width="30.1" height="13.5" rx="5.8" transform="rotate(116 486.7 574.9)" fill="#c8b87e" stroke="#6f5e38" stroke-width="1"/>
<rect x="507.6" y="677.7" width="20.6" height="12.5" rx="5.8" transform="rotate(133 517.9 683.9)" fill="#d1c48a" stroke="#6f5e38" stroke-width="1"/>
<rect x="446.4" y="561.7" width="39.8" height="12.6" rx="5.8" transform="rotate(2 466.3 568.0)" fill="#d1c48a" stroke="#6f5e38" stroke-width="1"/>
<rect x="417.8" y="659.6" width="34.3" height="12.3" rx="5.8" transform="rotate(174 435.0 665.8)" fill="#cbbd84" stroke="#6f5e38" stroke-width="1"/>
<rect x="515.8" y="462.8" width="31.6" height="12.6" rx="5.8" transform="rotate(99 531.6 469.1)" fill="#c8b87e" stroke="#6f5e38" stroke-width="1"/>
<rect x="442.0" y="667.1" width="30.0" height="13.4" rx="5.8" transform="rotate(154 457.0 673.8)" fill="#cbbd84" stroke="#6f5e38" stroke-width="1"/>
<rect x="471.1" y="453.1" width="44.6" height="12.1" rx="5.8" transform="rotate(95 493.4 459.1)" fill="#cbbd84" stroke="#6f5e38" stroke-width="1"/>
<rect x="428.7" y="568.4" width="32.6" height="11.7" rx="5.8" transform="rotate(167 445.0 574.2)" fill="#d1c48a" stroke="#6f5e38" stroke-width="1"/>
<rect x="381.0" y="627.0" width="35.2" height="12.6" rx="5.8" transform="rotate(74 398.7 633.3)" fill="#b3a36c" stroke="#6f5e38" stroke-width="1"/>
<rect x="387.7" y="515.5" width="30.3" height="12.5" rx="5.8" transform="rotate(130 402.9 521.7)" fill="#d1c48a" stroke="#6f5e38" stroke-width="1"/>
<rect x="390.6" y="659.7" width="31.2" height="12.2" rx="5.8" transform="rotate(175 406.2 665.8)" fill="#bcad74" stroke="#6f5e38" stroke-width="1"/>
<rect x="381.1" y="462.2" width="41.1" height="13.3" rx="5.8" transform="rotate(26 401.7 468.8)" fill="#bcad74" stroke="#6f5e38" stroke-width="1"/>
<rect x="474.1" y="466.8" width="36.2" height="12.1" rx="5.8" transform="rotate(37 492.2 472.9)" fill="#c8b87e" stroke="#6f5e38" stroke-width="1"/>
<rect x="437.4" y="476.9" width="29.4" height="11.3" rx="5.8" transform="rotate(75 452.2 482.6)" fill="#cbbd84" stroke="#6f5e38" stroke-width="1"/>
<rect x="421.4" y="580.4" width="30.9" height="12.9" rx="5.8" transform="rotate(96 436.8 586.9)" fill="#bcad74" stroke="#6f5e38" stroke-width="1"/>
<rect x="535.7" y="618.3" width="26.2" height="11.3" rx="5.8" transform="rotate(161 548.8 624.0)" fill="#cbbd84" stroke="#6f5e38" stroke-width="1"/>
<rect x="482.1" y="526.1" width="27.1" height="12.7" rx="5.8" transform="rotate(102 495.7 532.4)" fill="#cbbd84" stroke="#6f5e38" stroke-width="1"/>
<rect x="412.0" y="506.1" width="26.2" height="13.4" rx="5.8" transform="rotate(90 425.1 512.8)" fill="#bcad74" stroke="#6f5e38" stroke-width="1"/>
<rect x="526.0" y="448.6" width="21.6" height="11.7" rx="5.8" transform="rotate(77 536.8 454.4)" fill="#cbbd84" stroke="#6f5e38" stroke-width="1"/>
<rect x="386.9" y="492.7" width="27.2" height="12.9" rx="5.8" transform="rotate(164 400.5 499.1)" fill="#bcad74" stroke="#6f5e38" stroke-width="1"/>
<rect x="468.8" y="592.7" width="29.7" height="12.2" rx="5.8" transform="rotate(38 483.6 598.8)" fill="#d1c48a" stroke="#6f5e38" stroke-width="1"/>
<rect x="453.2" y="470.8" width="42.6" height="13.0" rx="5.8" transform="rotate(81 474.5 477.3)" fill="#cbbd84" stroke="#6f5e38" stroke-width="1"/>
<rect x="514.4" y="626.0" width="31.6" height="12.9" rx="5.8" transform="rotate(70 530.2 632.4)" fill="#bcad74" stroke="#6f5e38" stroke-width="1"/>
<rect x="431.3" y="598.4" width="45.7" height="11.8" rx="5.8" transform="rotate(99 454.1 604.3)" fill="#bcad74" stroke="#6f5e38" stroke-width="1"/>
<rect x="452.4" y="528.3" width="22.5" height="13.2" rx="5.8" transform="rotate(14 463.7 534.9)" fill="#c8b87e" stroke="#6f5e38" stroke-width="1"/>
<rect x="443.8" y="577.3" width="41.2" height="12.2" rx="5.8" transform="rotate(148 464.4 583.4)" fill="#c8b87e" stroke="#6f5e38" stroke-width="1"/>
<rect x="388.0" y="491.2" width="37.2" height="11.2" rx="5.8" transform="rotate(55 406.6 496.8)" fill="#d1c48a" stroke="#6f5e38" stroke-width="1"/>
<rect x="425.5" y="473.3" width="29.3" height="12.8" rx="5.8" transform="rotate(66 440.2 479.7)" fill="#c8b87e" stroke="#6f5e38" stroke-width="1"/>
<rect x="428.9" y="545.8" width="35.5" height="13.3" rx="5.8" transform="rotate(124 446.6 552.4)" fill="#d1c48a" stroke="#6f5e38" stroke-width="1"/>
<rect x="451.4" y="634.8" width="27.9" height="11.8" rx="5.8" transform="rotate(72 465.3 640.7)" fill="#cbbd84" stroke="#6f5e38" stroke-width="1"/>
<rect x="419.8" y="527.1" width="29.5" height="11.9" rx="5.8" transform="rotate(71 434.6 533.1)" fill="#b3a36c" stroke="#6f5e38" stroke-width="1"/>
<rect x="508.6" y="619.1" width="29.6" height="12.0" rx="5.8" transform="rotate(28 523.4 625.1)" fill="#cbbd84" stroke="#6f5e38" stroke-width="1"/>
<rect x="465.7" y="481.3" width="39.7" height="13.2" rx="5.8" transform="rotate(51 485.6 487.9)" fill="#c8b87e" stroke="#6f5e38" stroke-width="1"/>
<rect x="418.1" y="453.0" width="24.1" height="11.7" rx="5.8" transform="rotate(4 430.2 458.9)" fill="#b3a36c" stroke="#6f5e38" stroke-width="1"/>
<rect x="384.4" y="572.6" width="40.5" height="11.2" rx="5.8" transform="rotate(15 404.7 578.2)" fill="#c8b87e" stroke="#6f5e38" stroke-width="1"/>
<rect x="521.9" y="459.8" width="36.5" height="11.4" rx="5.8" transform="rotate(134 540.1 465.5)" fill="#b3a36c" stroke="#6f5e38" stroke-width="1"/>
<rect x="414.2" y="492.4" width="39.9" height="12.3" rx="5.8" transform="rotate(138 434.1 498.6)" fill="#b3a36c" stroke="#6f5e38" stroke-width="1"/>
<rect x="436.8" y="636.1" width="28.7" height="11.3" rx="5.8" transform="rotate(88 451.1 641.8)" fill="#c8b87e" stroke="#6f5e38" stroke-width="1"/>
<rect x="493.8" y="661.5" width="30.7" height="13.1" rx="5.8" transform="rotate(120 509.2 668.1)" fill="#c8b87e" stroke="#6f5e38" stroke-width="1"/>
<rect x="503.5" y="641.6" width="43.1" height="13.4" rx="5.8" transform="rotate(115 525.0 648.3)" fill="#cbbd84" stroke="#6f5e38" stroke-width="1"/>
<rect x="441.6" y="440.6" width="22.9" height="13.3" rx="5.8" transform="rotate(165 453.0 447.3)" fill="#bcad74" stroke="#6f5e38" stroke-width="1"/>
<rect x="499.6" y="680.9" width="29.8" height="11.4" rx="5.8" transform="rotate(37 514.5 686.6)" fill="#b3a36c" stroke="#6f5e38" stroke-width="1"/>
<rect x="458.6" y="505.6" width="43.0" height="12.2" rx="5.8" transform="rotate(132 480.1 511.7)" fill="#d1c48a" stroke="#6f5e38" stroke-width="1"/>
<rect x="487.1" y="628.6" width="24.7" height="11.2" rx="5.8" transform="rotate(83 499.4 634.1)" fill="#cbbd84" stroke="#6f5e38" stroke-width="1"/>
<rect x="458.3" y="634.4" width="28.1" height="11.5" rx="5.8" transform="rotate(65 472.3 640.1)" fill="#cbbd84" stroke="#6f5e38" stroke-width="1"/>
<rect x="414.8" y="614.0" width="35.5" height="11.6" rx="5.8" transform="rotate(33 432.5 619.8)" fill="#d1c48a" stroke="#6f5e38" stroke-width="1"/>
<rect x="437.4" y="660.7" width="44.4" height="12.6" rx="5.8" transform="rotate(170 459.6 667.0)" fill="#cbbd84" stroke="#6f5e38" stroke-width="1"/>
<rect x="450.5" y="501.7" width="43.1" height="13.3" rx="5.8" transform="rotate(62 472.1 508.4)" fill="#cbbd84" stroke="#6f5e38" stroke-width="1"/>
<rect x="498.3" y="461.4" width="42.4" height="12.0" rx="5.8" transform="rotate(39 519.5 467.4)" fill="#bcad74" stroke="#6f5e38" stroke-width="1"/>
<rect x="507.4" y="532.6" width="33.7" height="12.3" rx="5.8" transform="rotate(49 524.3 538.7)" fill="#c8b87e" stroke="#6f5e38" stroke-width="1"/>
<rect x="490.8" y="496.7" width="20.3" height="12.2" rx="5.8" transform="rotate(67 501.0 502.8)" fill="#bcad74" stroke="#6f5e38" stroke-width="1"/>
<rect x="498.0" y="587.0" width="24.1" height="11.4" rx="5.8" transform="rotate(58 510.0 592.7)" fill="#d1c48a" stroke="#6f5e38" stroke-width="1"/>
<rect x="529.9" y="636.0" width="23.4" height="12.9" rx="5.8" transform="rotate(112 541.6 642.4)" fill="#cbbd84" stroke="#6f5e38" stroke-width="1"/>
<rect x="461.0" y="476.1" width="40.0" height="11.0" rx="5.8" transform="rotate(148 481.0 481.6)" fill="#bcad74" stroke="#6f5e38" stroke-width="1"/>
<rect x="514.1" y="458.5" width="27.0" height="12.8" rx="5.8" transform="rotate(17 527.6 464.9)" fill="#b3a36c" stroke="#6f5e38" stroke-width="1"/>
<rect x="487.1" y="458.8" width="39.5" height="12.4" rx="5.8" transform="rotate(91 506.8 465.0)" fill="#c8b87e" stroke="#6f5e38" stroke-width="1"/>
<rect x="500.4" y="540.9" width="43.8" height="11.2" rx="5.8" transform="rotate(149 522.3 546.5)" fill="#bcad74" stroke="#6f5e38" stroke-width="1"/>
<rect x="383.9" y="538.9" width="32.8" height="13.4" rx="5.8" transform="rotate(174 400.3 545.6)" fill="#d1c48a" stroke="#6f5e38" stroke-width="1"/>
<rect x="430.7" y="457.3" width="27.9" height="12.2" rx="5.8" transform="rotate(129 444.7 463.4)" fill="#d1c48a" stroke="#6f5e38" stroke-width="1"/>
<rect x="387.7" y="472.8" width="37.4" height="12.7" rx="5.8" transform="rotate(134 406.4 479.1)" fill="#c8b87e" stroke="#6f5e38" stroke-width="1"/>
<rect x="485.5" y="441.4" width="29.8" height="12.8" rx="5.8" transform="rotate(43 500.4 447.8)" fill="#cbbd84" stroke="#6f5e38" stroke-width="1"/>
<rect x="391.6" y="626.6" width="42.3" height="13.1" rx="5.8" transform="rotate(129 412.7 633.1)" fill="#cbbd84" stroke="#6f5e38" stroke-width="1"/>
<rect x="396.8" y="591.5" width="44.4" height="12.9" rx="5.8" transform="rotate(172 419.0 598.0)" fill="#b3a36c" stroke="#6f5e38" stroke-width="1"/>
<rect x="472.0" y="460.0" width="24.9" height="11.9" rx="5.8" transform="rotate(20 484.4 466.0)" fill="#d1c48a" stroke="#6f5e38" stroke-width="1"/>
<rect x="528.2" y="576.2" width="38.8" height="11.8" rx="5.8" transform="rotate(149 547.6 582.1)" fill="#c8b87e" stroke="#6f5e38" stroke-width="1"/>
<rect x="399.1" y="590.2" width="23.4" height="12.6" rx="5.8" transform="rotate(32 410.8 596.5)" fill="#bcad74" stroke="#6f5e38" stroke-width="1"/>
<rect x="441.8" y="643.4" width="35.4" height="11.2" rx="5.8" transform="rotate(41 459.5 649.0)" fill="#bcad74" stroke="#6f5e38" stroke-width="1"/>
<rect x="534.4" y="544.7" width="40.1" height="11.9" rx="5.8" transform="rotate(148 554.5 550.7)" fill="#cbbd84" stroke="#6f5e38" stroke-width="1"/>
<rect x="404.9" y="488.6" width="23.8" height="12.7" rx="5.8" transform="rotate(87 416.9 494.9)" fill="#b3a36c" stroke="#6f5e38" stroke-width="1"/>
<rect x="477.4" y="616.3" width="35.9" height="11.8" rx="5.8" transform="rotate(142 495.4 622.2)" fill="#bcad74" stroke="#6f5e38" stroke-width="1"/>
<rect x="491.1" y="587.4" width="20.5" height="11.8" rx="5.8" transform="rotate(62 501.4 593.3)" fill="#b3a36c" stroke="#6f5e38" stroke-width="1"/>
<rect x="394.9" y="530.5" width="33.2" height="13.0" rx="5.8" transform="rotate(149 411.5 536.9)" fill="#cbbd84" stroke="#6f5e38" stroke-width="1"/>
<rect x="493.0" y="500.9" width="34.0" height="11.7" rx="5.8" transform="rotate(42 510.0 506.7)" fill="#cbbd84" stroke="#6f5e38" stroke-width="1"/>
<rect x="456.2" y="472.7" width="38.5" height="13.5" rx="5.8" transform="rotate(93 475.5 479.4)" fill="#bcad74" stroke="#6f5e38" stroke-width="1"/>
<rect x="467.8" y="444.8" width="37.1" height="12.9" rx="5.8" transform="rotate(25 486.3 451.3)" fill="#b3a36c" stroke="#6f5e38" stroke-width="1"/>
<rect x="473.5" y="608.2" width="28.6" height="13.3" rx="5.8" transform="rotate(65 487.8 614.9)" fill="#b3a36c" stroke="#6f5e38" stroke-width="1"/>
<rect x="518.0" y="549.4" width="39.0" height="11.6" rx="5.8" transform="rotate(102 537.5 555.2)" fill="#cbbd84" stroke="#6f5e38" stroke-width="1"/>
<rect x="471.8" y="574.9" width="26.9" height="13.3" rx="5.8" transform="rotate(179 485.3 581.5)" fill="#d1c48a" stroke="#6f5e38" stroke-width="1"/>
<rect x="471.1" y="468.9" width="41.4" height="11.7" rx="5.8" transform="rotate(161 491.9 474.7)" fill="#bcad74" stroke="#6f5e38" stroke-width="1"/>
<rect x="505.1" y="527.1" width="24.3" height="12.5" rx="5.8" transform="rotate(146 517.3 533.4)" fill="#b3a36c" stroke="#6f5e38" stroke-width="1"/>
<rect x="376.7" y="482.1" width="45.7" height="13.3" rx="5.8" transform="rotate(119 399.5 488.7)" fill="#d1c48a" stroke="#6f5e38" stroke-width="1"/>
<rect x="495.2" y="645.3" width="43.6" height="12.5" rx="5.8" transform="rotate(115 516.9 651.6)" fill="#c8b87e" stroke="#6f5e38" stroke-width="1"/>
<rect x="409.6" y="539.2" width="20.9" height="12.3" rx="5.8" transform="rotate(21 420.0 545.3)" fill="#b3a36c" stroke="#6f5e38" stroke-width="1"/>
<rect x="409.0" y="565.4" width="26.9" height="12.4" rx="5.8" transform="rotate(60 422.5 571.6)" fill="#c8b87e" stroke="#6f5e38" stroke-width="1"/>
<rect x="496.1" y="630.8" width="30.5" height="12.2" rx="5.8" transform="rotate(18 511.3 637.0)" fill="#d1c48a" stroke="#6f5e38" stroke-width="1"/>
<rect x="442.1" y="590.6" width="37.9" height="12.9" rx="5.8" transform="rotate(135 461.0 597.0)" fill="#b3a36c" stroke="#6f5e38" stroke-width="1"/>
<rect x="516.8" y="551.5" width="43.5" height="12.7" rx="5.8" transform="rotate(149 538.5 557.9)" fill="#c8b87e" stroke="#6f5e38" stroke-width="1"/>
<rect x="469.3" y="659.5" width="33.7" height="12.3" rx="5.8" transform="rotate(78 486.1 665.7)" fill="#c8b87e" stroke="#6f5e38" stroke-width="1"/>
<rect x="426.9" y="451.5" width="38.9" height="13.3" rx="5.8" transform="rotate(132 446.3 458.1)" fill="#cbbd84" stroke="#6f5e38" stroke-width="1"/>
<rect x="425.0" y="630.9" width="42.9" height="13.2" rx="5.8" transform="rotate(44 446.5 637.5)" fill="#b3a36c" stroke="#6f5e38" stroke-width="1"/>
<rect x="411.0" y="651.7" width="45.3" height="12.2" rx="5.8" transform="rotate(19 433.6 657.8)" fill="#bcad74" stroke="#6f5e38" stroke-width="1"/>
<rect x="460.5" y="598.5" width="44.4" height="13.2" rx="5.8" transform="rotate(180 482.7 605.1)" fill="#d1c48a" stroke="#6f5e38" stroke-width="1"/>
<rect x="514.4" y="541.8" width="40.9" height="11.6" rx="5.8" transform="rotate(134 534.8 547.6)" fill="#cbbd84" stroke="#6f5e38" stroke-width="1"/>
<rect x="397.4" y="456.6" width="33.5" height="11.3" rx="5.8" transform="rotate(159 414.2 462.3)" fill="#cbbd84" stroke="#6f5e38" stroke-width="1"/>
<rect x="535.4" y="439.1" width="26.3" height="11.7" rx="5.8" transform="rotate(58 548.5 444.9)" fill="#c8b87e" stroke="#6f5e38" stroke-width="1"/>
<rect x="448.9" y="548.9" width="33.8" height="11.4" rx="5.8" transform="rotate(125 465.8 554.6)" fill="#bcad74" stroke="#6f5e38" stroke-width="1"/>
<rect x="380.1" y="446.5" width="43.4" height="11.8" rx="5.8" transform="rotate(90 401.7 452.4)" fill="#b3a36c" stroke="#6f5e38" stroke-width="1"/>
<rect x="515.7" y="487.9" width="42.3" height="12.7" rx="5.8" transform="rotate(11 536.8 494.3)" fill="#d1c48a" stroke="#6f5e38" stroke-width="1"/>
<rect x="514.1" y="525.5" width="32.3" height="11.4" rx="5.8" transform="rotate(158 530.2 531.2)" fill="#cbbd84" stroke="#6f5e38" stroke-width="1"/>
<rect x="414.6" y="592.5" width="25.0" height="13.2" rx="5.8" transform="rotate(9 427.1 599.1)" fill="#c8b87e" stroke="#6f5e38" stroke-width="1"/>
<rect x="421.4" y="638.5" width="45.0" height="11.7" rx="5.8" transform="rotate(76 443.9 644.3)" fill="#bcad74" stroke="#6f5e38" stroke-width="1"/>
<rect x="428.5" y="672.3" width="40.3" height="12.0" rx="5.8" transform="rotate(30 448.6 678.3)" fill="#d1c48a" stroke="#6f5e38" stroke-width="1"/>
<rect x="400.4" y="607.0" width="27.0" height="12.8" rx="5.8" transform="rotate(90 413.9 613.4)" fill="#d1c48a" stroke="#6f5e38" stroke-width="1"/>
<rect x="503.9" y="529.1" width="37.2" height="13.2" rx="5.8" transform="rotate(106 522.5 535.7)" fill="#bcad74" stroke="#6f5e38" stroke-width="1"/>
<rect x="540.4" y="657.5" width="24.7" height="11.6" rx="5.8" transform="rotate(24 552.8 663.3)" fill="#c8b87e" stroke="#6f5e38" stroke-width="1"/>
<rect x="447.4" y="457.8" width="43.8" height="11.2" rx="5.8" transform="rotate(163 469.4 463.4)" fill="#c8b87e" stroke="#6f5e38" stroke-width="1"/>
<rect x="478.3" y="507.7" width="26.5" height="13.0" rx="5.8" transform="rotate(16 491.6 514.2)" fill="#d1c48a" stroke="#6f5e38" stroke-width="1"/>
<rect x="542.3" y="484.6" width="24.7" height="12.8" rx="5.8" transform="rotate(5 554.6 491.0)" fill="#bcad74" stroke="#6f5e38" stroke-width="1"/>
<rect x="538.5" y="446.6" width="32.0" height="12.9" rx="5.8" transform="rotate(69 554.5 453.0)" fill="#b3a36c" stroke="#6f5e38" stroke-width="1"/>
<rect x="384.0" y="453.8" width="40.2" height="13.3" rx="5.8" transform="rotate(58 404.1 460.4)" fill="#b3a36c" stroke="#6f5e38" stroke-width="1"/>
<rect x="504.7" y="564.3" width="33.1" height="13.1" rx="5.8" transform="rotate(123 521.3 570.9)" fill="#cbbd84" stroke="#6f5e38" stroke-width="1"/>
<rect x="497.3" y="568.1" width="35.4" height="12.9" rx="5.8" transform="rotate(20 515.0 574.5)" fill="#b3a36c" stroke="#6f5e38" stroke-width="1"/>
<rect x="412.4" y="545.8" width="40.1" height="13.0" rx="5.8" transform="rotate(142 432.5 552.3)" fill="#bcad74" stroke="#6f5e38" stroke-width="1"/>
<rect x="415.3" y="571.3" width="42.2" height="12.5" rx="5.8" transform="rotate(47 436.4 577.6)" fill="#bcad74" stroke="#6f5e38" stroke-width="1"/>
<rect x="473.7" y="612.6" width="34.9" height="13.2" rx="5.8" transform="rotate(32 491.1 619.2)" fill="#bcad74" stroke="#6f5e38" stroke-width="1"/>
<rect x="472.5" y="587.2" width="41.0" height="12.3" rx="5.8" transform="rotate(130 493.0 593.3)" fill="#c8b87e" stroke="#6f5e38" stroke-width="1"/>
<rect x="388.7" y="660.0" width="34.8" height="12.4" rx="5.8" transform="rotate(142 406.1 666.2)" fill="#bcad74" stroke="#6f5e38" stroke-width="1"/>
<rect x="479.9" y="451.6" width="31.1" height="12.7" rx="5.8" transform="rotate(148 495.4 458.0)" fill="#cbbd84" stroke="#6f5e38" stroke-width="1"/>
<rect x="504.5" y="625.2" width="33.0" height="12.6" rx="5.8" transform="rotate(92 520.9 631.5)" fill="#b3a36c" stroke="#6f5e38" stroke-width="1"/>
<rect x="416.7" y="477.3" width="38.0" height="13.1" rx="5.8" transform="rotate(142 435.6 483.8)" fill="#c8b87e" stroke="#6f5e38" stroke-width="1"/>
<rect x="426.4" y="552.3" width="38.2" height="12.8" rx="5.8" transform="rotate(172 445.5 558.7)" fill="#bcad74" stroke="#6f5e38" stroke-width="1"/>
<rect x="450.9" y="624.9" width="45.6" height="11.4" rx="5.8" transform="rotate(82 473.7 630.5)" fill="#c8b87e" stroke="#6f5e38" stroke-width="1"/>
<rect x="378.0" y="539.2" width="33.7" height="11.2" rx="5.8" transform="rotate(100 394.8 544.8)" fill="#b3a36c" stroke="#6f5e38" stroke-width="1"/>
<rect x="452.7" y="456.7" width="20.9" height="13.5" rx="5.8" transform="rotate(137 463.1 463.5)" fill="#cbbd84" stroke="#6f5e38" stroke-width="1"/>
<rect x="414.4" y="500.8" width="34.3" height="11.6" rx="5.8" transform="rotate(83 431.6 506.6)" fill="#bcad74" stroke="#6f5e38" stroke-width="1"/>
<rect x="430.6" y="520.8" width="45.5" height="12.5" rx="5.8" transform="rotate(7 453.3 527.0)" fill="#b3a36c" stroke="#6f5e38" stroke-width="1"/>
<rect x="469.6" y="681.3" width="39.2" height="12.4" rx="5.8" transform="rotate(164 489.2 687.5)" fill="#cbbd84" stroke="#6f5e38" stroke-width="1"/>
<rect x="523.0" y="481.4" width="42.4" height="13.3" rx="5.8" transform="rotate(38 544.2 488.1)" fill="#b3a36c" stroke="#6f5e38" stroke-width="1"/>
<rect x="506.5" y="491.6" width="29.0" height="11.5" rx="5.8" transform="rotate(99 521.0 497.4)" fill="#bcad74" stroke="#6f5e38" stroke-width="1"/>
<rect x="454.5" y="536.0" width="35.4" height="12.9" rx="5.8" transform="rotate(85 472.2 542.5)" fill="#b3a36c" stroke="#6f5e38" stroke-width="1"/>
<rect x="534.2" y="604.8" width="42.4" height="11.5" rx="5.8" transform="rotate(69 555.4 610.5)" fill="#c8b87e" stroke="#6f5e38" stroke-width="1"/>
<rect x="379.6" y="506.0" width="44.7" height="12.6" rx="5.8" transform="rotate(93 401.9 512.3)" fill="#d1c48a" stroke="#6f5e38" stroke-width="1"/>
<rect x="458.9" y="577.5" width="36.9" height="11.5" rx="5.8" transform="rotate(19 477.4 583.2)" fill="#c8b87e" stroke="#6f5e38" stroke-width="1"/>
<rect x="404.5" y="666.9" width="29.4" height="12.9" rx="5.8" transform="rotate(130 419.2 673.3)" fill="#c8b87e" stroke="#6f5e38" stroke-width="1"/>
<rect x="382.6" y="517.8" width="30.0" height="11.2" rx="5.8" transform="rotate(159 397.6 523.4)" fill="#d1c48a" stroke="#6f5e38" stroke-width="1"/>
<rect x="417.2" y="653.3" width="37.4" height="11.8" rx="5.8" transform="rotate(109 435.9 659.2)" fill="#b3a36c" stroke="#6f5e38" stroke-width="1"/>
<rect x="383.2" y="476.1" width="35.5" height="11.1" rx="5.8" transform="rotate(56 400.9 481.6)" fill="#b3a36c" stroke="#6f5e38" stroke-width="1"/>
<rect x="455.2" y="608.0" width="33.4" height="12.4" rx="5.8" transform="rotate(56 471.9 614.1)" fill="#b3a36c" stroke="#6f5e38" stroke-width="1"/>
<rect x="489.7" y="474.9" width="25.3" height="11.7" rx="5.8" transform="rotate(128 502.4 480.7)" fill="#b3a36c" stroke="#6f5e38" stroke-width="1"/>
<rect x="401.8" y="565.3" width="29.2" height="11.3" rx="5.8" transform="rotate(67 416.5 570.9)" fill="#cbbd84" stroke="#6f5e38" stroke-width="1"/>
<rect x="419.0" y="448.4" width="20.6" height="12.6" rx="5.8" transform="rotate(102 429.3 454.7)" fill="#d1c48a" stroke="#6f5e38" stroke-width="1"/>
<rect x="480.3" y="454.9" width="42.2" height="12.4" rx="5.8" transform="rotate(64 501.4 461.1)" fill="#c8b87e" stroke="#6f5e38" stroke-width="1"/>
<rect x="536.2" y="650.4" width="26.1" height="12.6" rx="5.8" transform="rotate(16 549.2 656.7)" fill="#b3a36c" stroke="#6f5e38" stroke-width="1"/>
<rect x="397.4" y="558.4" width="32.7" height="13.3" rx="5.8" transform="rotate(51 413.7 565.1)" fill="#d1c48a" stroke="#6f5e38" stroke-width="1"/>
<rect x="417.6" y="664.2" width="25.2" height="12.9" rx="5.8" transform="rotate(63 430.2 670.6)" fill="#bcad74" stroke="#6f5e38" stroke-width="1"/>
<rect x="456.9" y="619.5" width="43.6" height="13.0" rx="5.8" transform="rotate(86 478.7 626.0)" fill="#d1c48a" stroke="#6f5e38" stroke-width="1"/>
<rect x="489.0" y="574.2" width="38.2" height="11.1" rx="5.8" transform="rotate(70 508.1 579.8)" fill="#d1c48a" stroke="#6f5e38" stroke-width="1"/>
<rect x="528.3" y="661.5" width="27.1" height="11.9" rx="5.8" transform="rotate(152 541.9 667.4)" fill="#d1c48a" stroke="#6f5e38" stroke-width="1"/>
<rect x="457.1" y="518.7" width="26.6" height="11.1" rx="5.8" transform="rotate(62 470.4 524.2)" fill="#d1c48a" stroke="#6f5e38" stroke-width="1"/>
<rect x="467.4" y="503.0" width="37.4" height="11.5" rx="5.8" transform="rotate(84 486.1 508.7)" fill="#cbbd84" stroke="#6f5e38" stroke-width="1"/>
<rect x="439.3" y="657.5" width="20.8" height="12.8" rx="5.8" transform="rotate(39 449.7 663.8)" fill="#c8b87e" stroke="#6f5e38" stroke-width="1"/>
<rect x="480.7" y="590.3" width="30.7" height="12.0" rx="5.8" transform="rotate(50 496.1 596.3)" fill="#b3a36c" stroke="#6f5e38" stroke-width="1"/>
<rect x="515.2" y="532.4" width="43.6" height="11.1" rx="5.8" transform="rotate(24 537.0 538.0)" fill="#cbbd84" stroke="#6f5e38" stroke-width="1"/>
<rect x="422.4" y="560.1" width="32.3" height="11.1" rx="5.8" transform="rotate(109 438.6 565.6)" fill="#d1c48a" stroke="#6f5e38" stroke-width="1"/>
<rect x="418.3" y="605.3" width="26.1" height="11.0" rx="5.8" transform="rotate(98 431.4 610.8)" fill="#b3a36c" stroke="#6f5e38" stroke-width="1"/>
</g></g>
<rect x="261.8" y="456.8" width="2.5" height="220.0" fill="#5d7f95"/>
<rect x="403.8" y="456.8" width="2.5" height="220.0" fill="#5d7f95"/>
<line x1="604.8" y1="530.0" x2="980" y2="530.0" stroke="#dfe4e8" stroke-width="1.3"/>
<line x1="604.8" y1="496.6" x2="980" y2="496.6" stroke="#dfe4e8" stroke-width="1.3"/>
<line x1="604.8" y1="463.3" x2="980" y2="463.3" stroke="#dfe4e8" stroke-width="1.3"/>
<line x1="604.8" y1="430.0" x2="980" y2="430.0" stroke="#dfe4e8" stroke-width="1.3"/>
<line x1="604.8" y1="396.6" x2="980" y2="396.6" stroke="#dfe4e8" stroke-width="1.3"/>
<line x1="604.8" y1="363.3" x2="980" y2="363.3" stroke="#dfe4e8" stroke-width="1.3"/>
<polygon points="604.8,534.0 618.2,532.2 631.6,525.6 645.0,527.8 658.4,520.6 671.8,523.8 685.2,526.3 698.6,528.3 712.0,529.5 725.4,523.3 738.8,527.8 752.2,522.0 765.6,531.0 779.0,531.0 792.4,530.9 805.8,534.8 819.2,531.8 832.6,532.8 846.0,528.3 859.4,533.4 872.8,528.9 886.2,538.7 899.6,531.8 913.0,525.0 926.4,528.9 939.8,533.8 953.2,529.9 966.6,535.8 980.0,528.3 980.0,563.3 604.8,563.3" fill="#8cc5bd"/>
<polygon points="604.8,534.0 618.2,532.2 631.6,525.6 645.0,527.8 658.4,520.6 671.8,523.8 685.2,526.3 698.6,528.3 712.0,529.5 725.4,523.3 738.8,527.8 752.2,522.0 765.6,531.0 779.0,531.0 792.4,530.9 805.8,534.8 819.2,531.8 832.6,529.9 846.0,525.0 859.4,528.0 872.8,523.0 886.2,532.8 899.6,523.0 913.0,515.2 926.4,518.2 939.8,521.1 953.2,517.2 966.6,523.0 980.0,511.9 980.0,528.3 966.6,535.8 953.2,529.9 939.8,533.8 926.4,528.9 913.0,525.0 899.6,531.8 886.2,538.7 872.8,528.9 859.4,533.4 846.0,528.3 832.6,532.8 819.2,531.8 805.8,534.8 792.4,530.9 779.0,531.0 765.6,531.0 752.2,522.0 738.8,527.8 725.4,523.3 712.0,529.5 698.6,528.3 685.2,526.3 671.8,523.8 658.4,520.6 645.0,527.8 631.6,525.6 618.2,532.2 604.8,534.0" fill="#f7e600"/>
<polygon points="604.8,467.3 618.2,454.8 631.6,450.4 645.0,456.6 658.4,456.3 671.8,457.5 685.2,457.2 698.6,465.5 712.0,466.4 725.4,462.0 738.8,469.4 752.2,464.6 765.6,476.2 779.0,472.6 792.4,472.8 805.8,473.6 819.2,476.2 832.6,472.8 846.0,466.4 859.4,467.3 872.8,453.6 886.2,473.2 899.6,458.5 913.0,441.9 926.4,455.6 939.8,452.6 953.2,443.4 966.6,449.7 980.0,440.4 980.0,511.9 966.6,523.0 953.2,517.2 939.8,521.1 926.4,518.2 913.0,515.2 899.6,523.0 886.2,532.8 872.8,523.0 859.4,528.0 846.0,525.0 832.6,529.9 819.2,531.8 805.8,534.8 792.4,530.9 779.0,531.0 765.6,531.0 752.2,522.0 738.8,527.8 725.4,523.3 712.0,529.5 698.6,528.3 685.2,526.3 671.8,523.8 658.4,520.6 645.0,527.8 631.6,525.6 618.2,532.2 604.8,534.0" fill="#bdd333"/>
<polygon points="604.8,465.5 618.2,451.6 631.6,447.4 645.0,452.7 658.4,452.2 671.8,454.0 685.2,453.1 698.6,461.1 712.0,462.0 725.4,457.5 738.8,464.6 752.2,459.3 765.6,470.0 779.0,467.3 792.4,466.4 805.8,467.3 819.2,471.3 832.6,467.3 846.0,460.5 859.4,461.4 872.8,446.8 886.2,467.0 899.6,451.7 913.0,435.0 926.4,447.8 939.8,446.8 953.2,435.0 966.6,440.4 980.0,432.2 980.0,440.4 966.6,449.7 953.2,443.4 939.8,452.6 926.4,455.6 913.0,441.9 899.6,458.5 886.2,473.2 872.8,453.6 859.4,467.3 846.0,466.4 832.6,472.8 819.2,476.2 805.8,473.6 792.4,472.8 779.0,472.6 765.6,476.2 752.2,464.6 738.8,469.4 725.4,462.0 712.0,466.4 698.6,465.5 685.2,457.2 671.8,457.5 658.4,456.3 645.0,456.6 631.6,450.4 618.2,454.8 604.8,467.3" fill="#a77cc4"/>
<polygon points="604.8,465.5 618.2,451.6 631.6,447.4 645.0,452.7 658.4,452.2 671.8,454.0 685.2,453.1 698.6,461.1 712.0,462.0 725.4,457.5 738.8,464.6 752.2,459.3 765.6,470.0 779.0,464.6 792.4,463.4 805.8,462.4 819.2,466.8 832.6,460.5 846.0,444.5 859.4,444.8 872.8,430.2 886.2,450.7 899.6,432.2 913.0,418.4 926.4,430.2 939.8,428.2 953.2,418.4 966.6,423.3 980.0,413.6 980.0,432.2 966.6,440.4 953.2,435.0 939.8,446.8 926.4,447.8 913.0,435.0 899.6,451.7 886.2,467.0 872.8,446.8 859.4,461.4 846.0,460.5 832.6,467.3 819.2,471.3 805.8,467.3 792.4,466.4 779.0,467.3 765.6,470.0 752.2,459.3 738.8,464.6 725.4,457.5 712.0,462.0 698.6,461.1 685.2,453.1 671.8,454.0 658.4,452.2 645.0,452.7 631.6,447.4 618.2,451.6 604.8,465.5" fill="#e8b56f"/>
<polygon points="604.8,465.5 618.2,451.6 631.6,447.4 645.0,452.7 658.4,452.2 671.8,454.0 685.2,453.1 698.6,461.1 712.0,462.0 725.4,457.5 738.8,464.6 752.2,459.3 765.6,470.0 779.0,464.3 792.4,462.4 805.8,461.8 819.2,465.0 832.6,457.6 846.0,439.6 859.4,439.0 872.8,423.4 886.2,445.4 899.6,421.4 913.0,406.7 926.4,418.8 939.8,416.5 953.2,403.8 966.6,407.7 980.0,397.0 980.0,413.6 966.6,423.3 953.2,418.4 939.8,428.2 926.4,430.2 913.0,418.4 899.6,432.2 886.2,450.7 872.8,430.2 859.4,444.8 846.0,444.5 832.6,460.5 819.2,466.8 805.8,462.4 792.4,463.4 779.0,464.6 765.6,470.0 752.2,459.3 738.8,464.6 725.4,457.5 712.0,462.0 698.6,461.1 685.2,453.1 671.8,454.0 658.4,452.2 645.0,452.7 631.6,447.4 618.2,451.6 604.8,465.5" fill="#dc6f60"/>
<polygon points="604.8,462.8 618.2,449.2 631.6,445.6 645.0,451.0 658.4,449.9 671.8,451.0 685.2,449.5 698.6,457.5 712.0,457.9 725.4,454.0 738.8,459.8 752.2,453.6 765.6,464.6 779.0,461.1 792.4,459.0 805.8,458.5 819.2,461.4 832.6,454.6 846.0,435.5 859.4,434.1 872.8,418.0 886.2,439.0 899.6,416.5 913.0,397.0 926.4,407.7 939.8,403.8 953.2,391.0 966.6,392.0 980.0,380.3 980.0,397.0 966.6,407.7 953.2,403.8 939.8,416.5 926.4,418.8 913.0,406.7 899.6,421.4 886.2,445.4 872.8,423.4 859.4,439.0 846.0,439.6 832.6,457.6 819.2,465.0 805.8,461.8 792.4,462.4 779.0,464.3 765.6,470.0 752.2,459.3 738.8,464.6 725.4,457.5 712.0,462.0 698.6,461.1 685.2,453.1 671.8,454.0 658.4,452.2 645.0,452.7 631.6,447.4 618.2,451.6 604.8,465.5" fill="#7fa7de"/>
<line x1="604.8" y1="564.3" x2="604.8" y2="347" stroke="#506d84" stroke-width="1.3"/>
<polygon points="601.3,350 608.3,350 604.8,341" fill="#506d84"/>
<line x1="603.8" y1="563.3" x2="990" y2="563.3" stroke="#506d84" stroke-width="1.3"/>
<polygon points="987,559.8 987,566.8 996,563.3" fill="#506d84"/>
<line x1="599.8" y1="563.3" x2="604.8" y2="563.3" stroke="#506d84" stroke-width="1.2"/>
<line x1="599.8" y1="530.0" x2="604.8" y2="530.0" stroke="#506d84" stroke-width="1.2"/>
<line x1="599.8" y1="496.6" x2="604.8" y2="496.6" stroke="#506d84" stroke-width="1.2"/>
<line x1="599.8" y1="463.3" x2="604.8" y2="463.3" stroke="#506d84" stroke-width="1.2"/>
<line x1="599.8" y1="430.0" x2="604.8" y2="430.0" stroke="#506d84" stroke-width="1.2"/>
<line x1="599.8" y1="396.6" x2="604.8" y2="396.6" stroke="#506d84" stroke-width="1.2"/>
<line x1="599.8" y1="363.3" x2="604.8" y2="363.3" stroke="#506d84" stroke-width="1.2"/>
<line x1="604.8" y1="563.3" x2="604.8" y2="568.3" stroke="#506d84" stroke-width="1.2"/>
<line x1="631.6" y1="563.3" x2="631.6" y2="568.3" stroke="#506d84" stroke-width="1.2"/>
<line x1="658.4" y1="563.3" x2="658.4" y2="568.3" stroke="#506d84" stroke-width="1.2"/>
<line x1="685.2" y1="563.3" x2="685.2" y2="568.3" stroke="#506d84" stroke-width="1.2"/>
<line x1="712.0" y1="563.3" x2="712.0" y2="568.3" stroke="#506d84" stroke-width="1.2"/>
<line x1="738.8" y1="563.3" x2="738.8" y2="568.3" stroke="#506d84" stroke-width="1.2"/>
<line x1="765.6" y1="563.3" x2="765.6" y2="568.3" stroke="#506d84" stroke-width="1.2"/>
<line x1="792.4" y1="563.3" x2="792.4" y2="568.3" stroke="#506d84" stroke-width="1.2"/>
<line x1="819.2" y1="563.3" x2="819.2" y2="568.3" stroke="#506d84" stroke-width="1.2"/>
<line x1="846.0" y1="563.3" x2="846.0" y2="568.3" stroke="#506d84" stroke-width="1.2"/>
<line x1="872.8" y1="563.3" x2="872.8" y2="568.3" stroke="#506d84" stroke-width="1.2"/>
<line x1="899.6" y1="563.3" x2="899.6" y2="568.3" stroke="#506d84" stroke-width="1.2"/>
<line x1="926.4" y1="563.3" x2="926.4" y2="568.3" stroke="#506d84" stroke-width="1.2"/>
<line x1="953.2" y1="563.3" x2="953.2" y2="568.3" stroke="#506d84" stroke-width="1.2"/>
<line x1="980.0" y1="563.3" x2="980.0" y2="568.3" stroke="#506d84" stroke-width="1.2"/>
<text transform="translate(609.8,578.1) rotate(-45)" text-anchor="end" font-family="Liberation Sans" font-size="14" fill="#4f6b80" textLength="29.5" lengthAdjust="spacingAndGlyphs">1990</text>
<text transform="translate(636.6,578.1) rotate(-45)" text-anchor="end" font-family="Liberation Sans" font-size="14" fill="#4f6b80" textLength="29.5" lengthAdjust="spacingAndGlyphs">1992</text>
<text transform="translate(663.4,578.1) rotate(-45)" text-anchor="end" font-family="Liberation Sans" font-size="14" fill="#4f6b80" textLength="29.5" lengthAdjust="spacingAndGlyphs">1994</text>
<text transform="translate(690.2,578.1) rotate(-45)" text-anchor="end" font-family="Liberation Sans" font-size="14" fill="#4f6b80" textLength="29.5" lengthAdjust="spacingAndGlyphs">1996</text>
<text transform="translate(717.0,578.1) rotate(-45)" text-anchor="end" font-family="Liberation Sans" font-size="14" fill="#4f6b80" textLength="29.5" lengthAdjust="spacingAndGlyphs">1998</text>
<text transform="translate(743.8,578.1) rotate(-45)" text-anchor="end" font-family="Liberation Sans" font-size="14" fill="#4f6b80" textLength="29.5" lengthAdjust="spacingAndGlyphs">2000</text>
<text transform="translate(770.6,578.1) rotate(-45)" text-anchor="end" font-family="Liberation Sans" font-size="14" fill="#4f6b80" textLength="29.5" lengthAdjust="spacingAndGlyphs">2002</text>
<text transform="translate(797.4,578.1) rotate(-45)" text-anchor="end" font-family="Liberation Sans" font-size="14" fill="#4f6b80" textLength="29.5" lengthAdjust="spacingAndGlyphs">2004</text>
<text transform="translate(824.2,578.1) rotate(-45)" text-anchor="end" font-family="Liberation Sans" font-size="14" fill="#4f6b80" textLength="29.5" lengthAdjust="spacingAndGlyphs">2006</text>
<text transform="translate(851.0,578.1) rotate(-45)" text-anchor="end" font-family="Liberation Sans" font-size="14" fill="#4f6b80" textLength="29.5" lengthAdjust="spacingAndGlyphs">2008</text>
<text transform="translate(877.8,578.1) rotate(-45)" text-anchor="end" font-family="Liberation Sans" font-size="14" fill="#4f6b80" textLength="29.5" lengthAdjust="spacingAndGlyphs">2010</text>
<text transform="translate(904.6,578.1) rotate(-45)" text-anchor="end" font-family="Liberation Sans" font-size="14" fill="#4f6b80" textLength="29.5" lengthAdjust="spacingAndGlyphs">2012</text>
<text transform="translate(931.4,578.1) rotate(-45)" text-anchor="end" font-family="Liberation Sans" font-size="14" fill="#4f6b80" textLength="29.5" lengthAdjust="spacingAndGlyphs">2014</text>
<text transform="translate(958.2,578.1) rotate(-45)" text-anchor="end" font-family="Liberation Sans" font-size="14" fill="#4f6b80" textLength="29.5" lengthAdjust="spacingAndGlyphs">2016</text>
<text transform="translate(985.0,578.1) rotate(-45)" text-anchor="end" font-family="Liberation Sans" font-size="14" fill="#4f6b80" textLength="29.5" lengthAdjust="spacingAndGlyphs">2018</text>
<rect x="607.6" y="623.7" width="18.4" height="12.3" fill="#8cc5bd"/>
<rect x="747.9" y="623.7" width="18.4" height="12.3" fill="#f7e600"/>
<rect x="899.1" y="623.7" width="18.4" height="12.3" fill="#bdd333"/>
<rect x="607.6" y="659.3" width="18.4" height="12.3" fill="#a77cc4"/>
<rect x="747.9" y="659.3" width="18.4" height="12.3" fill="#e8b56f"/>
<rect x="899.1" y="659.3" width="18.4" height="12.3" fill="#dc6f60"/>
<rect x="607.6" y="692.0" width="18.4" height="12.3" fill="#7fa7de"/>
<rect x="120.3" y="806.4" width="393.5" height="320.7" rx="15" fill="#fff" stroke="#b4c3cd" stroke-width="1.3"/>
<defs><linearGradient id="bg3" x1="0" y1="0" x2="1" y2="1"><stop offset="0" stop-color="#ffffff"/><stop offset="1" stop-color="#e6eff2"/></linearGradient></defs>
<rect x="267.3" y="817" width="233.4" height="195.2" fill="url(#bg3)"/>
<line x1="308.9" y1="817" x2="308.9" y2="1012.2" stroke="#d8dfe4" stroke-width="1"/>
<line x1="350.5" y1="817" x2="350.5" y2="1012.2" stroke="#d8dfe4" stroke-width="1"/>
<line x1="392.1" y1="817" x2="392.1" y2="1012.2" stroke="#d8dfe4" stroke-width="1"/>
<line x1="433.7" y1="817" x2="433.7" y2="1012.2" stroke="#d8dfe4" stroke-width="1"/>
<line x1="475.3" y1="817" x2="475.3" y2="1012.2" stroke="#d8dfe4" stroke-width="1"/>
<rect x="267.3" y="835.4" width="193.9" height="11.2" fill="#e9b73a"/>
<rect x="267.3" y="861.6" width="92.4" height="11.2" fill="#e9b73a"/>
<rect x="267.3" y="887.8" width="74.9" height="11.2" fill="#e9b73a"/>
<rect x="267.3" y="914.0" width="17.5" height="11.2" fill="#e9b73a"/>
<rect x="267.3" y="940.2" width="16.6" height="11.2" fill="#e9b73a"/>
<rect x="267.3" y="966.4" width="13.7" height="11.2" fill="#e9b73a"/>
<rect x="267.3" y="992.6" width="13.7" height="11.2" fill="#e9b73a"/>
<line x1="267.3" y1="1017.2" x2="267.3" y2="826" stroke="#557289" stroke-width="1.2"/>
<polygon points="264.1,829 270.5,829 267.3,819.5" fill="#557289"/>
<line x1="262" y1="1012.2" x2="494" y2="1012.2" stroke="#557289" stroke-width="1.2"/>
<polygon points="491,1009.0 491,1015.4000000000001 501,1012.2" fill="#557289"/>
<line x1="267.3" y1="1012.2" x2="267.3" y2="1017.2" stroke="#557289" stroke-width="1.2"/>
<line x1="308.9" y1="1012.2" x2="308.9" y2="1017.2" stroke="#557289" stroke-width="1.2"/>
<line x1="350.5" y1="1012.2" x2="350.5" y2="1017.2" stroke="#557289" stroke-width="1.2"/>
<line x1="392.1" y1="1012.2" x2="392.1" y2="1017.2" stroke="#557289" stroke-width="1.2"/>
<line x1="433.7" y1="1012.2" x2="433.7" y2="1017.2" stroke="#557289" stroke-width="1.2"/>
<line x1="475.3" y1="1012.2" x2="475.3" y2="1017.2" stroke="#557289" stroke-width="1.2"/>
<rect x="723.9" y="807.9" width="68.7" height="40.4" fill="#7dc0ab"/>
<rect x="794.7" y="807.9" width="93.0" height="40.4" fill="#7dc0ab"/>
<rect x="889.9" y="807.9" width="61.8" height="40.4" fill="#7dc0ab"/>
<rect x="953.9" y="807.9" width="50.3" height="40.4" fill="#7dc0ab"/>
<rect x="547.9" y="850.6" width="173.9" height="27.3" fill="#3e7ba3"/>
<rect x="723.9" y="850.6" width="68.7" height="27.3" fill="#f3f0dd"/>
<rect x="794.7" y="850.6" width="93.0" height="27.3" fill="#f3f0dd"/>
<rect x="889.9" y="850.6" width="61.8" height="27.3" fill="#f3f0dd"/>
<rect x="953.9" y="850.6" width="50.3" height="27.3" fill="#f3f0dd"/>
<rect x="547.9" y="880.0" width="173.9" height="27.3" fill="#3e7ba3"/>
<rect x="723.9" y="880.0" width="68.7" height="27.3" fill="#f3f0dd"/>
<rect x="794.7" y="880.0" width="93.0" height="27.3" fill="#f3f0dd"/>
<rect x="889.9" y="880.0" width="61.8" height="27.3" fill="#f3f0dd"/>
<rect x="953.9" y="880.0" width="50.3" height="27.3" fill="#f3f0dd"/>
<rect x="547.9" y="909.9" width="173.9" height="27.0" fill="#3e7ba3"/>
<rect x="723.9" y="909.9" width="68.7" height="27.0" fill="#f3f0dd"/>
<rect x="794.7" y="909.9" width="93.0" height="27.0" fill="#f3f0dd"/>
<rect x="889.9" y="909.9" width="61.8" height="27.0" fill="#f3f0dd"/>
<rect x="953.9" y="909.9" width="50.3" height="27.0" fill="#f3f0dd"/>
<rect x="547.9" y="939.1" width="173.9" height="27.4" fill="#3e7ba3"/>
<rect x="723.9" y="939.1" width="68.7" height="27.4" fill="#f3f0dd"/>
<rect x="794.7" y="939.1" width="93.0" height="27.4" fill="#f3f0dd"/>
<rect x="889.9" y="939.1" width="61.8" height="27.4" fill="#f3f0dd"/>
<rect x="953.9" y="939.1" width="50.3" height="27.4" fill="#f3f0dd"/>
<rect x="547.9" y="968.7" width="173.9" height="44.8" fill="#3e7ba3"/>
<rect x="723.9" y="968.7" width="68.7" height="44.8" fill="#f3f0dd"/>
<rect x="794.7" y="968.7" width="93.0" height="44.8" fill="#f3f0dd"/>
<rect x="889.9" y="968.7" width="61.8" height="44.8" fill="#f3f0dd"/>
<rect x="953.9" y="968.7" width="50.3" height="44.8" fill="#f3f0dd"/>
<rect x="547.9" y="1015.6" width="173.9" height="26.9" fill="#3e7ba3"/>
<rect x="723.9" y="1015.6" width="68.7" height="26.9" fill="#f3f0dd"/>
<rect x="794.7" y="1015.6" width="93.0" height="26.9" fill="#f3f0dd"/>
<rect x="889.9" y="1015.6" width="61.8" height="26.9" fill="#f3f0dd"/>
<rect x="953.9" y="1015.6" width="50.3" height="26.9" fill="#f3f0dd"/>
<rect x="547.9" y="1044.6" width="173.9" height="63.1" fill="#3e7ba3"/>
<rect x="723.9" y="1044.6" width="68.7" height="63.1" fill="#f3f0dd"/>
<rect x="794.7" y="1044.6" width="93.0" height="63.1" fill="#f3f0dd"/>
<rect x="889.9" y="1044.6" width="61.8" height="63.1" fill="#f3f0dd"/>
<rect x="953.9" y="1044.6" width="50.3" height="63.1" fill="#f3f0dd"/>
<rect x="121.5" y="691.6" width="49.1" height="16.8" fill="#8dbf45"/>
<rect x="574.9" y="730.2" width="50.7" height="17.8" fill="#8dbf45"/>
<rect x="120.3" y="1139.7" width="51.5" height="17.9" fill="#8dbf45"/>
<rect x="548.1" y="1120.2" width="52.5" height="17.2" fill="#8dbf45"/>
<rect x="121.2" y="1212.2" width="3.5" height="190.5" fill="#d9582a"/>
</svg>
<div class="t s" style="left:96.00px;top:97.01px;font-size:19px;color:#c8203a;transform:scaleX(1.0310);transform-origin:left;-webkit-text-stroke:0.55px currentColor;">Épreuves communes</div>
<div class="t s" style="left:96.00px;top:126.81px;font-size:19px;color:#c8203a;transform:scaleX(1.0961);transform-origin:left;-webkit-text-stroke:0.55px currentColor;">de contrôle continu</div>
<div class="t" style="left:438.00px;top:111.09px;font-size:43px;color:#fff;font-weight:700;transform:scaleX(0.9308);transform-origin:left;-webkit-text-stroke:1px #fff;">Objectif</div>
<div class="t" style="left:608.70px;top:111.09px;font-size:43px;color:#fff;font-weight:700;transform:scaleX(0.8404);transform-origin:left;-webkit-text-stroke:1px #fff;">BAC</div>
<div class="t" style="left:130.60px;top:194.83px;font-size:23px;color:#c8203a;font-weight:700;transform:scaleX(0.9525);transform-origin:left;-webkit-text-stroke:0.6px currentColor;">Analyser des documents et calculer</div>
<div class="t s" style="left:122.80px;top:241.33px;font-size:23px;color:#4b6d87;transform:scaleX(1.0276);transform-origin:left;-webkit-text-stroke:0.7px currentColor;">Empreinte environnementale de la biomasse</div>
<div class="t s" style="left:121.00px;top:274.97px;font-size:14.5px;color:#222121;transform:scaleX(1.1445);transform-origin:left;">La combustion de la biomasse (de la matière organique généralement végétale) produit</div>
<div class="t s" style="left:121.00px;top:296.59px;font-size:14.5px;color:#222121;transform:scaleX(1.1562);transform-origin:left;">de l’énergie thermique qui peut être utilisée pour du chauffage ou de la production</div>
<div class="t s" style="left:121.00px;top:318.21px;font-size:14.5px;color:#222121;transform:scaleX(1.1470);transform-origin:left;">électrique. Aujourd’hui en France, on considère que</div>
<div class="t s" style="left:121.00px;top:339.83px;font-size:14.5px;color:#222121;transform:scaleX(1.1552);transform-origin:left;">l’on exploite environ 50&#8201;% de l’accroissement biologique</div>
<div class="t s" style="left:121.00px;top:361.45px;font-size:14.5px;color:#222121;transform:scaleX(1.1443);transform-origin:left;">annuel des forêts et qu’il serait possible sans risque</div>
<div class="t s" style="left:121.00px;top:383.07px;font-size:14.5px;color:#222121;transform:scaleX(1.1574);transform-origin:left;">d’aller jusqu’à 75&#8201;%. Le nombre d’arbres sur le territoire</div>
<div class="t s" style="left:121.00px;top:404.69px;font-size:14.5px;color:#222121;transform:scaleX(1.1616);transform-origin:left;">français et la biomasse que l’on pourrait en tirer restent</div>
<div class="t s" style="left:121.00px;top:426.31px;font-size:14.5px;color:#222121;transform:scaleX(1.1830);transform-origin:left;">toutefois limités.</div>
<div class="t" style="left:125.80px;top:700.47px;font-size:14.5px;color:#fff;font-weight:700;transform:scaleX(0.9249);transform-origin:left;">DOC 1</div>
<div class="t" style="left:176.20px;top:700.48px;font-size:16.2px;color:#222121;font-weight:700;transform:scaleX(1.0273);transform-origin:left;">Bûches, plaquettes de bois et granulés de</div>
<div class="t s" style="left:121.50px;top:721.20px;font-size:15px;color:#222121;transform:scaleX(1.0039);transform-origin:left;"><b style="font-size:16.2px">bois.</b> Rendement énergétique&#8239;: 65&#8201;% pour un poêle à bûches,</div>
<div class="t s" style="left:121.50px;top:741.60px;font-size:15px;color:#222121;">85&#8201;% pour un poêle à granulés&#8239;; 75&#8201;% pour une chaudière</div>
<div class="t s" style="left:121.50px;top:761.80px;font-size:15px;color:#222121;transform:scaleX(1.0348);transform-origin:left;">à plaquettes.</div>
<div class="t" style="left:579.20px;top:739.57px;font-size:14.5px;color:#fff;font-weight:700;transform:scaleX(0.9588);transform-origin:left;">DOC 2</div>
<div class="t" style="left:631.60px;top:740.78px;font-size:16.2px;color:#222121;font-weight:700;transform:scaleX(1.0294);transform-origin:left;">Évolution de la production primaire d’énergies</div>
<div class="t" style="left:575.50px;top:761.28px;font-size:16.2px;color:#222121;font-weight:700;transform:scaleX(1.0230);transform-origin:left;">renouvelables en France entre 1990 et 2018.</div>
<div class="t" style="left:124.80px;top:1148.77px;font-size:14.5px;color:#fff;font-weight:700;transform:scaleX(0.9746);transform-origin:left;">DOC 3</div>
<div class="t" style="left:177.00px;top:1150.08px;font-size:16.2px;color:#222121;font-weight:700;transform:scaleX(1.0125);transform-origin:left;">Émissions de gaz à effet de serre liés</div>
<div class="t" style="left:120.80px;top:1170.58px;font-size:16.2px;color:#222121;font-weight:700;transform:scaleX(1.0211);transform-origin:left;">à quelques modes de chauffage domestique.</div>
<div class="t" style="left:552.40px;top:1129.37px;font-size:14.5px;color:#fff;font-weight:700;transform:scaleX(0.9836);transform-origin:left;">DOC 4</div>
<div class="t" style="left:605.30px;top:1129.98px;font-size:16.2px;color:#222121;font-weight:700;transform:scaleX(1.0180);transform-origin:left;">Comparaison des émissions de polluants</div>
<div class="t" style="left:548.50px;top:1149.48px;font-size:16.2px;color:#222121;font-weight:700;transform:scaleX(1.0154);transform-origin:left;">pour quelques sources d’énergies utilisées</div>
<div class="t" style="left:548.50px;top:1169.78px;font-size:16.2px;color:#222121;font-weight:700;transform:scaleX(1.0353);transform-origin:left;">dans le chauffage individuel ou collectif.</div>
<div class="t" style="left:616.20px;top:332.62px;font-size:13.5px;color:#4f6b80;font-weight:700;transform:scaleX(0.9183);transform-origin:left;">Production primaire</div>
<div class="t" style="left:616.20px;top:348.22px;font-size:13.5px;color:#4f6b80;font-weight:700;transform:scaleX(0.9305);transform-origin:left;">d’énergies renouvelables <span style="font-weight:400">(MTep)</span></div>
<div class="t s" style="right:531.00px;top:562.49px;font-size:13.3px;color:#4f6b80;transform:scaleX(0.8506);transform-origin:right;">0</div>
<div class="t s" style="right:531.00px;top:529.16px;font-size:13.3px;color:#4f6b80;transform:scaleX(0.8506);transform-origin:right;">5</div>
<div class="t s" style="right:531.00px;top:495.82px;font-size:13.3px;color:#4f6b80;transform:scaleX(0.8245);transform-origin:right;">10</div>
<div class="t s" style="right:531.00px;top:462.49px;font-size:13.3px;color:#4f6b80;transform:scaleX(0.8245);transform-origin:right;">15</div>
<div class="t s" style="right:531.00px;top:429.16px;font-size:13.3px;color:#4f6b80;transform:scaleX(0.8245);transform-origin:right;">20</div>
<div class="t s" style="right:531.00px;top:395.82px;font-size:13.3px;color:#4f6b80;transform:scaleX(0.8245);transform-origin:right;">25</div>
<div class="t s" style="right:531.00px;top:362.49px;font-size:13.3px;color:#4f6b80;transform:scaleX(0.8245);transform-origin:right;">30</div>
<div class="t" style="left:942.90px;top:607.12px;font-size:13.5px;color:#4f6b80;font-weight:700;transform:scaleX(0.9402);transform-origin:left;">Année</div>
<div class="t s" style="left:635.40px;top:630.12px;font-size:13.5px;color:#4f6b80;transform:scaleX(0.9202);transform-origin:left;">Hydraulique</div>
<div class="t s" style="left:635.40px;top:645.62px;font-size:13.5px;color:#4f6b80;transform:scaleX(0.9261);transform-origin:left;">renouvelable</div>
<div class="t s" style="left:635.40px;top:664.82px;font-size:13.5px;color:#4f6b80;transform:scaleX(0.9085);transform-origin:left;">Déchets</div>
<div class="t s" style="left:635.40px;top:680.32px;font-size:13.5px;color:#4f6b80;transform:scaleX(0.9338);transform-origin:left;">renouvelables</div>
<div class="t s" style="left:635.40px;top:697.52px;font-size:13.5px;color:#4f6b80;transform:scaleX(0.9428);transform-origin:left;">Autres</div>
<div class="t s" style="left:635.40px;top:713.12px;font-size:13.5px;color:#4f6b80;transform:scaleX(0.9338);transform-origin:left;">renouvelables</div>
<div class="t s" style="left:775.70px;top:630.12px;font-size:13.5px;color:#4f6b80;transform:scaleX(0.8713);transform-origin:left;">Éolien</div>
<div class="t s" style="left:775.70px;top:664.82px;font-size:13.5px;color:#4f6b80;transform:scaleX(0.9076);transform-origin:left;">Biocarburants</div>
<div class="t s" style="left:926.50px;top:630.12px;font-size:13.5px;color:#4f6b80;transform:scaleX(0.8839);transform-origin:left;">Biomasse</div>
<div class="t s" style="left:926.50px;top:645.62px;font-size:13.5px;color:#4f6b80;transform:scaleX(0.9297);transform-origin:left;">solide</div>
<div class="t s" style="left:926.50px;top:664.82px;font-size:13.5px;color:#4f6b80;transform:scaleX(0.8924);transform-origin:left;">Pompes</div>
<div class="t s" style="left:926.50px;top:680.32px;font-size:13.5px;color:#4f6b80;transform:scaleX(0.9055);transform-origin:left;">à chaleur</div>
<div class="t s" style="left:912.60px;top:709.99px;font-size:13px;color:#4f6b80;font-style:italic;transform:scaleX(0.8495);transform-origin:left;">D’après SDES</div>
<div class="t s" style="right:864.60px;top:841.09px;font-size:13px;color:#4f6b80;transform:scaleX(0.8539);transform-origin:right;">Fuel</div>
<div class="t s" style="left:467.16px;top:841.49px;font-size:13px;color:#4f6b80;transform:scaleX(0.9261);transform-origin:left;">466</div>
<div class="t s" style="right:864.60px;top:867.29px;font-size:13px;color:#4f6b80;transform:scaleX(0.7885);transform-origin:right;">Gaz</div>
<div class="t s" style="left:365.65px;top:867.69px;font-size:13px;color:#4f6b80;transform:scaleX(0.8616);transform-origin:left;">222</div>
<div class="t s" style="right:864.60px;top:893.49px;font-size:13px;color:#4f6b80;transform:scaleX(0.9173);transform-origin:right;">Électricité</div>
<div class="t s" style="left:348.18px;top:893.89px;font-size:13px;color:#4f6b80;transform:scaleX(0.8662);transform-origin:left;">180</div>
<div class="t s" style="right:864.60px;top:919.69px;font-size:13px;color:#4f6b80;transform:scaleX(0.9366);transform-origin:right;">Poêle à granulé</div>
<div class="t s" style="left:290.77px;top:920.09px;font-size:13px;color:#4f6b80;transform:scaleX(0.8708);transform-origin:left;">42</div>
<div class="t s" style="right:864.60px;top:945.89px;font-size:13px;color:#4f6b80;transform:scaleX(0.9172);transform-origin:right;">Poêle à bûches</div>
<div class="t s" style="left:289.94px;top:946.29px;font-size:13px;color:#4f6b80;transform:scaleX(0.8708);transform-origin:left;">40</div>
<div class="t s" style="right:864.60px;top:972.09px;font-size:13px;color:#4f6b80;transform:scaleX(0.9372);transform-origin:right;">Chaudière à plaquettes</div>
<div class="t s" style="left:287.03px;top:972.49px;font-size:13px;color:#4f6b80;transform:scaleX(0.9192);transform-origin:left;">33</div>
<div class="t s" style="right:864.60px;top:998.29px;font-size:13px;color:#4f6b80;transform:scaleX(0.9144);transform-origin:right;">Chaudière à bûches</div>
<div class="t s" style="left:287.03px;top:998.69px;font-size:13px;color:#4f6b80;transform:scaleX(0.9192);transform-origin:left;">33</div>
<div class="t s" style="left:267.30px;top:1030.79px;font-size:13px;color:#4f6b80;transform:translateX(-50%) scaleX(0.8570);transform-origin:center;">0</div>
<div class="t s" style="left:308.90px;top:1030.79px;font-size:13px;color:#4f6b80;transform:translateX(-50%) scaleX(0.8616);transform-origin:center;">100</div>
<div class="t s" style="left:350.50px;top:1030.79px;font-size:13px;color:#4f6b80;transform:translateX(-50%) scaleX(0.8616);transform-origin:center;">200</div>
<div class="t s" style="left:392.10px;top:1030.79px;font-size:13px;color:#4f6b80;transform:translateX(-50%) scaleX(0.8616);transform-origin:center;">300</div>
<div class="t s" style="left:433.70px;top:1030.79px;font-size:13px;color:#4f6b80;transform:translateX(-50%) scaleX(0.8616);transform-origin:center;">400</div>
<div class="t s" style="left:475.30px;top:1030.79px;font-size:13px;color:#4f6b80;transform:translateX(-50%) scaleX(0.8616);transform-origin:center;">500</div>
<div class="t" style="right:625.30px;top:1055.22px;font-size:13.5px;color:#4f6b80;font-weight:700;transform:scaleX(0.8487);transform-origin:right;">Émissions de CO<span style="font-size:9px;position:relative;top:3px">2</span></div>
<div class="t s" style="right:625.30px;top:1070.82px;font-size:13.5px;color:#4f6b80;transform:scaleX(0.9041);transform-origin:right;">(kg équivalent CO<span style="font-size:9px;position:relative;top:3px">2</span> par MWh)</div>
<div class="t s" style="right:628.00px;top:1108.19px;font-size:13px;color:#4f6b80;font-style:italic;transform:scaleX(0.9460);transform-origin:right;">D’après Ademe, 2007</div>
<div class="t" style="left:554.50px;top:866.12px;font-size:13.5px;color:#fff;font-weight:700;transform:scaleX(0.9646);transform-origin:left;">SO<span style="font-size:0.72em;position:relative;top:0.25em">2</span> (g<span style="font-size:0.8em;position:relative;top:-0.12em">&#8201;•&#8201;</span>GJ<span style="font-size:0.72em;position:relative;top:-0.38em">−1</span>)</div>
<div class="t" style="left:554.50px;top:895.52px;font-size:13.5px;color:#fff;font-weight:700;transform:scaleX(1.0150);transform-origin:left;">NO et NO<span style="font-size:0.72em;position:relative;top:0.25em">2</span> (g<span style="font-size:0.8em;position:relative;top:-0.12em">&#8201;•&#8201;</span>GJ<span style="font-size:0.72em;position:relative;top:-0.38em">−1</span>)</div>
<div class="t" style="left:554.50px;top:925.32px;font-size:13.5px;color:#fff;font-weight:700;transform:scaleX(0.9844);transform-origin:left;">CO&#8194;(g<span style="font-size:0.8em;position:relative;top:-0.12em">&#8201;•&#8201;</span>GJ<span style="font-size:0.72em;position:relative;top:-0.38em">−1</span>)</div>
<div class="t" style="left:554.50px;top:954.72px;font-size:13.5px;color:#fff;font-weight:700;transform:scaleX(1.0157);transform-origin:left;">Particules fines (g<span style="font-size:0.8em;position:relative;top:-0.12em">&#8201;•&#8201;</span>GJ<span style="font-size:0.72em;position:relative;top:-0.38em">−1</span>)</div>
<div class="t" style="left:554.50px;top:982.32px;font-size:13.5px;color:#fff;font-weight:700;transform:scaleX(1.0087);transform-origin:left;">Composés organiques</div>
<div class="t" style="left:554.50px;top:1000.22px;font-size:13.5px;color:#fff;font-weight:700;transform:scaleX(1.0192);transform-origin:left;">volatiles (g<span style="font-size:0.8em;position:relative;top:-0.12em">&#8201;•&#8201;</span>GJ<span style="font-size:0.72em;position:relative;top:-0.38em">−1</span>)</div>
<div class="t" style="left:554.50px;top:1028.32px;font-size:13.5px;color:#fff;font-weight:700;transform:scaleX(0.9940);transform-origin:left;">Dioxines (ng<span style="font-size:0.8em;position:relative;top:-0.12em">&#8201;•&#8201;</span>GJ<span style="font-size:0.72em;position:relative;top:-0.38em">−1</span>)</div>
<div class="t" style="left:554.50px;top:1059.12px;font-size:13.5px;color:#fff;font-weight:700;transform:scaleX(1.0391);transform-origin:left;">Hydrocarbures</div>
<div class="t" style="left:554.50px;top:1076.22px;font-size:13.5px;color:#fff;font-weight:700;transform:scaleX(1.0525);transform-origin:left;">aromatiques</div>
<div class="t" style="left:554.50px;top:1094.12px;font-size:13.5px;color:#fff;font-weight:700;transform:scaleX(1.0062);transform-origin:left;">polycycliques (mg<span style="font-size:0.8em;position:relative;top:-0.12em">&#8201;•&#8201;</span>GJ<span style="font-size:0.72em;position:relative;top:-0.38em">−1</span>)</div>
<div class="t" style="left:758.20px;top:828.72px;font-size:13.5px;color:#fff;font-weight:700;transform:translateX(-50%) scaleX(1.0216);transform-origin:center;">Charbon</div>
<div class="t" style="left:841.20px;top:821.02px;font-size:13.5px;color:#fff;font-weight:700;transform:translateX(-50%) scaleX(1.0084);transform-origin:center;">Fuel</div>
<div class="t" style="left:841.20px;top:837.32px;font-size:13.5px;color:#fff;font-weight:700;transform:translateX(-50%) scaleX(1.0427);transform-origin:center;">domestique</div>
<div class="t" style="left:920.80px;top:821.02px;font-size:13.5px;color:#fff;font-weight:700;transform:translateX(-50%) scaleX(0.9974);transform-origin:center;">Gaz</div>
<div class="t" style="left:920.80px;top:837.32px;font-size:13.5px;color:#fff;font-weight:700;transform:translateX(-50%) scaleX(1.0707);transform-origin:center;">naturel</div>
<div class="t" style="left:979.00px;top:828.72px;font-size:13.5px;color:#fff;font-weight:700;transform:translateX(-50%) scaleX(0.9465);transform-origin:center;">Bois</div>
<div class="t s" style="left:758.20px;top:866.92px;font-size:13.5px;color:#232323;transform:translateX(-50%) scaleX(1.0000);transform-origin:center;letter-spacing:0.4px;">618</div>
<div class="t s" style="left:841.20px;top:866.92px;font-size:13.5px;color:#232323;transform:translateX(-50%) scaleX(1.0000);transform-origin:center;letter-spacing:0.4px;">95</div>
<div class="t s" style="left:920.80px;top:866.92px;font-size:13.5px;color:#232323;transform:translateX(-50%) scaleX(1.0000);transform-origin:center;letter-spacing:0.4px;">0,5</div>
<div class="t s" style="left:979.00px;top:866.92px;font-size:13.5px;color:#232323;transform:translateX(-50%) scaleX(1.0000);transform-origin:center;letter-spacing:0.4px;">20</div>
<div class="t s" style="left:758.20px;top:896.32px;font-size:13.5px;color:#232323;transform:translateX(-50%) scaleX(1.0000);transform-origin:center;letter-spacing:0.4px;">160</div>
<div class="t s" style="left:841.20px;top:896.32px;font-size:13.5px;color:#232323;transform:translateX(-50%) scaleX(1.0000);transform-origin:center;letter-spacing:0.4px;">100</div>
<div class="t s" style="left:920.80px;top:896.32px;font-size:13.5px;color:#232323;transform:translateX(-50%) scaleX(1.0000);transform-origin:center;letter-spacing:0.4px;">60</div>
<div class="t s" style="left:979.00px;top:896.32px;font-size:13.5px;color:#232323;transform:translateX(-50%) scaleX(1.0000);transform-origin:center;letter-spacing:0.4px;">200</div>
<div class="t s" style="left:758.20px;top:926.12px;font-size:13.5px;color:#232323;transform:translateX(-50%) scaleX(1.0000);transform-origin:center;letter-spacing:0.4px;">200</div>
<div class="t s" style="left:841.20px;top:926.12px;font-size:13.5px;color:#232323;transform:translateX(-50%) scaleX(1.0000);transform-origin:center;letter-spacing:0.4px;">15</div>
<div class="t s" style="left:920.80px;top:926.12px;font-size:13.5px;color:#232323;transform:translateX(-50%) scaleX(1.0000);transform-origin:center;letter-spacing:0.4px;">19</div>
<div class="t s" style="left:979.00px;top:926.12px;font-size:13.5px;color:#232323;transform:translateX(-50%) scaleX(1.0000);transform-origin:center;letter-spacing:0.4px;">250</div>
<div class="t s" style="left:758.20px;top:955.52px;font-size:13.5px;color:#232323;transform:translateX(-50%) scaleX(1.0000);transform-origin:center;letter-spacing:0.4px;">100</div>
<div class="t s" style="left:841.20px;top:955.52px;font-size:13.5px;color:#232323;transform:translateX(-50%) scaleX(1.0000);transform-origin:center;letter-spacing:0.4px;">3</div>
<div class="t s" style="left:920.80px;top:955.52px;font-size:13.5px;color:#232323;transform:translateX(-50%) scaleX(1.0000);transform-origin:center;letter-spacing:0.4px;">0</div>
<div class="t s" style="left:979.00px;top:955.52px;font-size:13.5px;color:#232323;transform:translateX(-50%) scaleX(1.0000);transform-origin:center;letter-spacing:0.4px;">40</div>
<div class="t s" style="left:758.20px;top:991.62px;font-size:13.5px;color:#232323;transform:translateX(-50%) scaleX(1.0000);transform-origin:center;letter-spacing:0.4px;">15</div>
<div class="t s" style="left:841.20px;top:991.62px;font-size:13.5px;color:#232323;transform:translateX(-50%) scaleX(1.0000);transform-origin:center;letter-spacing:0.4px;">1,5</div>
<div class="t s" style="left:920.80px;top:991.62px;font-size:13.5px;color:#232323;transform:translateX(-50%) scaleX(1.0000);transform-origin:center;letter-spacing:0.4px;">4</div>
<div class="t s" style="left:979.00px;top:991.62px;font-size:13.5px;color:#232323;transform:translateX(-50%) scaleX(1.0000);transform-origin:center;letter-spacing:0.4px;">4,8</div>
<div class="t s" style="left:758.20px;top:1029.12px;font-size:13.5px;color:#232323;transform:translateX(-50%) scaleX(1.0000);transform-origin:center;letter-spacing:0.4px;">3,9</div>
<div class="t s" style="left:841.20px;top:1029.12px;font-size:13.5px;color:#232323;transform:translateX(-50%) scaleX(1.0000);transform-origin:center;letter-spacing:0.4px;">0</div>
<div class="t s" style="left:920.80px;top:1029.12px;font-size:13.5px;color:#232323;transform:translateX(-50%) scaleX(1.0000);transform-origin:center;letter-spacing:0.4px;">0</div>
<div class="t s" style="left:979.00px;top:1029.12px;font-size:13.5px;color:#232323;transform:translateX(-50%) scaleX(1.0000);transform-origin:center;letter-spacing:0.4px;">40</div>
<div class="t s" style="left:758.20px;top:1077.02px;font-size:13.5px;color:#232323;transform:translateX(-50%) scaleX(1.0000);transform-origin:center;letter-spacing:0.4px;">1920</div>
<div class="t s" style="left:841.20px;top:1077.02px;font-size:13.5px;color:#232323;transform:translateX(-50%) scaleX(1.0000);transform-origin:center;letter-spacing:0.4px;">0</div>
<div class="t s" style="left:920.80px;top:1077.02px;font-size:13.5px;color:#232323;transform:translateX(-50%) scaleX(1.0000);transform-origin:center;letter-spacing:0.4px;">0</div>
<div class="t s" style="left:979.00px;top:1077.02px;font-size:13.5px;color:#232323;transform:translateX(-50%) scaleX(1.0000);transform-origin:center;letter-spacing:0.4px;">8000</div>
<div class="t" style="left:136.60px;top:1222.61px;font-size:19.3px;color:#e05a2b;font-weight:700;transform:scaleX(0.6894);transform-origin:left;letter-spacing:1.5px;">QUESTIONS</div>
<div class="t" style="left:136.60px;top:1244.88px;font-size:16.5px;color:#e05a2b;font-weight:700;-webkit-text-stroke:0.6px currentColor;">1.</div>
<div class="t" style="left:136.60px;top:1264.88px;font-size:16.5px;color:#e05a2b;font-weight:700;-webkit-text-stroke:0.6px currentColor;">2.</div>
<div class="t" style="left:136.60px;top:1304.28px;font-size:16.5px;color:#e05a2b;font-weight:700;-webkit-text-stroke:0.6px currentColor;">3.</div>
<div class="t" style="left:584.40px;top:1244.88px;font-size:16.5px;color:#e05a2b;font-weight:700;-webkit-text-stroke:0.6px currentColor;">4.</div>
<div class="t" style="left:584.40px;top:1324.28px;font-size:16.5px;color:#e05a2b;font-weight:700;-webkit-text-stroke:0.6px currentColor;">5.</div>
<div class="t" style="left:157.70px;top:1245.40px;font-size:15px;color:#1f6f97;font-weight:700;transform:scaleX(0.9607);transform-origin:left;">Rappelez l’origine de l’énergie contenue dans la biomasse.</div>
<div class="t" style="left:157.70px;top:1265.40px;font-size:15px;color:#1f6f97;font-weight:700;transform:scaleX(0.9656);transform-origin:left;">Montrez que l’on peut considérer l’énergie produite</div>
<div class="t" style="left:157.70px;top:1284.90px;font-size:15px;color:#1f6f97;font-weight:700;transform:scaleX(0.9688);transform-origin:left;">par la biomasse comme une énergie renouvelable.</div>
<div class="t" style="left:157.70px;top:1304.80px;font-size:15px;color:#1f6f97;font-weight:700;transform:scaleX(0.9685);transform-origin:left;">Pour le chauffage domestique, comparez les différentes</div>
<div class="t" style="left:157.70px;top:1324.80px;font-size:15px;color:#1f6f97;font-weight:700;transform:scaleX(0.9571);transform-origin:left;">sources d’énergie présentées dans le <span style="color:#8bbd3c;font-size:0.95em">DOC.&#8201;4</span> du point de</div>
<div class="t" style="left:157.70px;top:1344.80px;font-size:15px;color:#1f6f97;font-weight:700;transform:scaleX(0.9687);transform-origin:left;">vue de leurs émissions carbone et de leur contribution</div>
<div class="t" style="left:157.70px;top:1363.90px;font-size:15px;color:#1f6f97;font-weight:700;transform:scaleX(0.9815);transform-origin:left;">à la pollution atmosphérique.</div>
<div class="t" style="left:606.70px;top:1245.40px;font-size:15px;color:#1f6f97;font-weight:700;transform:scaleX(0.9690);transform-origin:left;">Calculez combien de joules on peut produire avec</div>
<div class="t" style="left:606.70px;top:1265.40px;font-size:15px;color:#1f6f97;font-weight:700;transform:scaleX(0.9646);transform-origin:left;">chaque source d’énergie du <span style="color:#8bbd3c;font-size:0.95em">DOC.&#8201;4</span> (a) si l’on veut limiter</div>
<div class="t" style="left:606.70px;top:1284.90px;font-size:15px;color:#1f6f97;font-weight:700;transform:scaleX(0.9628);transform-origin:left;">les émissions de particules fines à 50&#8201;g&#8239;;&#8194;(b) si l’on veut</div>
<div class="t" style="left:606.70px;top:1304.80px;font-size:15px;color:#1f6f97;font-weight:700;transform:scaleX(0.9654);transform-origin:left;">limiter les émissions de SO<span style="font-size:0.72em;position:relative;top:0.25em">2</span> à 200&#8201;g.</div>
<div class="t" style="left:606.70px;top:1324.80px;font-size:15px;color:#1f6f97;font-weight:700;transform:scaleX(0.9674);transform-origin:left;">À l’intention d’un foyer qui hésite à se chauffer au bois,</div>
<div class="t" style="left:606.70px;top:1344.80px;font-size:15px;color:#1f6f97;font-weight:700;transform:scaleX(0.9739);transform-origin:left;">récapitulez les avantages et les limites de ce mode</div>
<div class="t" style="left:606.70px;top:1363.90px;font-size:15px;color:#1f6f97;font-weight:700;transform:scaleX(0.9784);transform-origin:left;">de chauffage.</div>
<div class="t" style="left:26.70px;top:1458.91px;font-size:17px;color:#1d6e96;font-weight:700;transform:scaleX(0.9198);transform-origin:left;">188</div>
<div class="t" style="left:92.80px;top:200.19px;font-size:28px;color:#fff;font-weight:700;transform:scaleX(0.6837);transform-origin:left;-webkit-text-stroke:0.8px #fff;">15</div>
</body></html>
